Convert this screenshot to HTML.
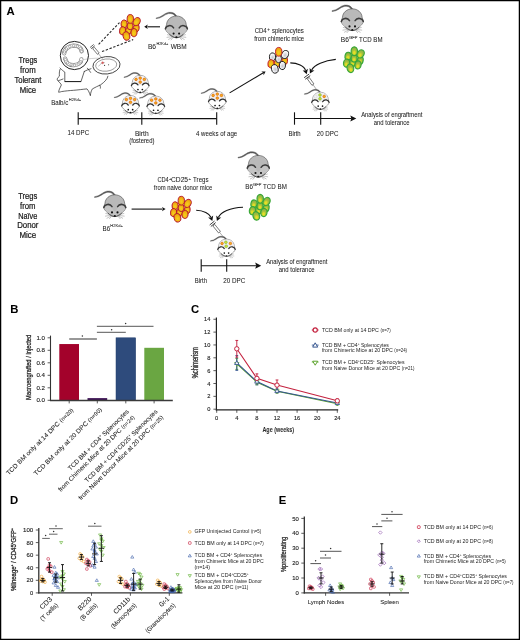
<!DOCTYPE html><html><head><meta charset="utf-8"><style>html,body{margin:0;padding:0;background:#fff;}svg{display:block;will-change:transform;}</style></head><body><svg width="520" height="640" viewBox="0 0 520 640" font-family="'Liberation Sans', sans-serif"><style>text{stroke:#222;stroke-width:0.05px;paint-order:stroke;} .lg{stroke-width:0} .hv{stroke-width:0.15px} .yl{stroke:#2a2a2a;stroke-width:0.3px} .big{stroke:#1a1a1a;stroke-width:0.22px} .tk{stroke:#222;stroke-width:0.12px}</style>
<defs>
 <radialGradient id="go" cx="0.5" cy="0.6" r="0.6">
   <stop offset="0" stop-color="#f6d21c"/><stop offset="0.55" stop-color="#f1b414"/><stop offset="1" stop-color="#e8920e"/>
 </radialGradient>
 <radialGradient id="gg" cx="0.5" cy="0.64" r="0.62" fx="0.5" fy="0.7">
   <stop offset="0" stop-color="#ece61e"/><stop offset="0.25" stop-color="#dcdc28"/><stop offset="0.5" stop-color="#a8c23c"/><stop offset="1" stop-color="#84ae48"/>
 </radialGradient>
 <radialGradient id="gw" cx="0.55" cy="0.58" r="0.6">
   <stop offset="0" stop-color="#c4c4ca"/><stop offset="0.45" stop-color="#e6e6ea"/><stop offset="0.8" stop-color="#fdfdfd"/><stop offset="1" stop-color="#fff"/>
 </radialGradient>
</defs>
<rect x="0" y="0" width="520" height="640" fill="#fff"/><text x="6.5" y="14.8" font-size="11.3" font-weight="bold" fill="#000">A</text>
<text x="27.9" y="62.7" font-size="8.5" text-anchor="middle" fill="#1a1a1a" font-weight="normal" textLength="18.7" lengthAdjust="spacingAndGlyphs"  class="big">Tregs</text>
<text x="27.9" y="72.7" font-size="8.5" text-anchor="middle" fill="#1a1a1a" font-weight="normal" textLength="15.6" lengthAdjust="spacingAndGlyphs"  class="big">from</text>
<text x="27.9" y="82.5" font-size="8.5" text-anchor="middle" fill="#1a1a1a" font-weight="normal" textLength="27.0" lengthAdjust="spacingAndGlyphs"  class="big">Tolerant</text>
<text x="27.9" y="92.6" font-size="8.5" text-anchor="middle" fill="#1a1a1a" font-weight="normal" textLength="16.4" lengthAdjust="spacingAndGlyphs"  class="big">Mice</text>
<g fill="none" stroke="#222" stroke-width="0.7" stroke-linejoin="round" stroke-linecap="round"><path d="M60,69.4 C59,72 59.4,74.5 59.4,76.2 C57,78 56.5,80 58,80.9 C59.5,82 60.6,83.5 61.4,84.9 C60,88 58.5,90.5 58.7,92.3 C60,92 61,91.8 61.4,91.6 C65,91 70,90.5 73.5,90.3 C78,90 83,89.2 87,88.9 C88.5,90.5 89.5,93 90.4,95.7 C90.5,93 91.4,90.5 92.4,88.9 C95,87.4 98,86 100.5,84.9 C102.5,83.4 104.5,82 105.8,80.2 C107,79 107.6,77.6 107.9,76.2"/><path d="M60,68 C62,70 63.6,71.4 64.8,72.1 L64.8,81.5"/><path d="M84.3,71.4 L81,81.5"/><path d="M84.3,71.4 C86.5,70.2 89,69.2 91,68.7 M87.4,68.2 C88.6,69.6 89.6,71 90.6,72.4"/><path d="M99.8,85.2 C100.4,86.4 100.6,87.4 100.4,88.2 M63,79 C61.5,79.6 60,80.2 58.6,80.6"/></g>
<path d="M64.8,81.6 L81,81.6" stroke="#111" stroke-width="1.0"/>
<circle cx="74.4" cy="55.5" r="14.1" fill="#fff" stroke="#161616" stroke-width="0.95"/>
<path d="M64.2,53.4 C64.4,49 68.6,46 73.4,45.6 C77.6,45.4 81.4,47.4 81.6,51.4 M65.2,58.6 C66,63.2 70,65.4 74,65.2 C78,65 81.2,62.6 81.4,59.4" fill="none" stroke="#8a8a8a" stroke-width="4.2" stroke-linecap="round"/>
<path d="M64.2,53.4 C64.4,49 68.6,46 73.4,45.6 C77.6,45.4 81.4,47.4 81.6,51.4 M65.2,58.6 C66,63.2 70,65.4 74,65.2 C78,65 81.2,62.6 81.4,59.4" fill="none" stroke="#fff" stroke-width="2.8" stroke-linecap="round"/>
<g fill="#fff" stroke="#6a6a6a" stroke-width="0.55"><circle cx="64.4" cy="52.0" r="1.25"/><circle cx="66.4" cy="48.9" r="1.25"/><circle cx="69.8" cy="46.6" r="1.25"/><circle cx="73.6" cy="45.7" r="1.25"/><circle cx="77.4" cy="46.2" r="1.25"/><circle cx="80.4" cy="48.4" r="1.25"/><circle cx="81.6" cy="51.4" r="1.25"/><circle cx="65.4" cy="59.6" r="1.25"/><circle cx="67.6" cy="62.8" r="1.25"/><circle cx="71.0" cy="64.8" r="1.25"/><circle cx="74.6" cy="65.2" r="1.25"/><circle cx="78.2" cy="64.2" r="1.25"/><circle cx="80.8" cy="61.8" r="1.25"/></g>
<path d="M83.4,59.6 C89,58.6 94,58.2 99,58.2" fill="none" stroke="#9a9a9a" stroke-width="0.45"/>
<ellipse cx="106.5" cy="65.3" rx="13.6" ry="8.7" transform="rotate(-6 106.5 65.3)" fill="#fff" stroke="#222" stroke-width="0.8"/>
<ellipse cx="106.2" cy="65.1" rx="10.6" ry="6.1" transform="rotate(-6 106.2 65.1)" fill="none" stroke="#444" stroke-width="0.5"/>
<path d="M98.6,66.4 C100,64 102,62.6 104.8,62.6" fill="none" stroke="#666" stroke-width="0.4"/>
<circle cx="102.6" cy="62.8" r="1.0" fill="#e56060" stroke="#b03a3a" stroke-width="0.3"/><circle cx="104.6" cy="65.4" r="0.55" fill="#333"/><circle cx="108.6" cy="64.8" r="0.55" fill="#333"/>
<g transform="translate(92.4 46.6) rotate(-40)"><path d="M-2.4,-0.8 L2.4,-0.8 M-2.4,0.8 L2.4,0.8" stroke="#333" stroke-width="0.7"/><rect x="-1.1" y="1.8" width="2.2" height="7.4" fill="#fff" stroke="#333" stroke-width="0.6"/><path d="M0,9.2 L0,15.6" stroke="#555" stroke-width="0.45"/></g>
<path d="M98.6,44.4 L119.5,22.6 M102,51.6 L133.2,39.6" stroke="#2a2a2a" stroke-width="1.1" stroke-dasharray="2.4 1.6" fill="none"/>
<g><ellipse cx="128.6" cy="30.4" rx="3.0" ry="3.6" transform="rotate(0 128.6 30.4)" fill="url(#go)" stroke="#b3142e" stroke-width="0.9"/><ellipse cx="130.1" cy="26.0" rx="3.0" ry="3.8" transform="rotate(0 130.1 26.0)" fill="url(#go)" stroke="#b3142e" stroke-width="0.9"/><ellipse cx="136.3" cy="28.0" rx="2.9" ry="3.9" transform="rotate(10 136.3 28.0)" fill="url(#go)" stroke="#b3142e" stroke-width="0.9"/><ellipse cx="124.1" cy="23.9" rx="3.1" ry="3.9" transform="rotate(10 124.1 23.9)" fill="url(#go)" stroke="#b3142e" stroke-width="0.9"/><ellipse cx="136.7" cy="21.6" rx="3.3" ry="4.3" transform="rotate(30 136.7 21.6)" fill="url(#go)" stroke="#b3142e" stroke-width="0.9"/><ellipse cx="130.3" cy="18.9" rx="3.2" ry="4.4" transform="rotate(0 130.3 18.9)" fill="url(#go)" stroke="#b3142e" stroke-width="0.9"/><ellipse cx="122.6" cy="30.8" rx="3.1" ry="4.1" transform="rotate(10 122.6 30.8)" fill="url(#go)" stroke="#b3142e" stroke-width="0.9"/><ellipse cx="134.0" cy="32.6" rx="3.1" ry="4.1" transform="rotate(10 134.0 32.6)" fill="url(#go)" stroke="#b3142e" stroke-width="0.9"/><ellipse cx="126.4" cy="36.0" rx="3.3" ry="4.3" transform="rotate(-15 126.4 36.0)" fill="url(#go)" stroke="#b3142e" stroke-width="0.9"/></g>
<line x1="160" y1="26.8" x2="147.30" y2="26.80" stroke="#111" stroke-width="1.1"/>
<path d="M144.20,26.80 L147.80,24.60 L146.90,26.80 L147.80,29.00 Z" fill="#111"/>
<g transform="translate(176.40 26.00) scale(1.0)"><path d="M0.5,-9.6 C-1,-12.6 -4,-14.2 -8,-13.6 C-12,-13 -15,-8.4 -20.2,-8.1 L-20.3,-7.4 C-14.6,-7.4 -11.8,-11.8 -8,-12.4 C-4.6,-12.9 -2.2,-11.8 -0.9,-9.4 Z" fill="#555" stroke="#555" stroke-width="0.5" stroke-linejoin="round"/><path d="M0,-10 C5.6,-10 9.6,-6 9.8,-1.6 L11,2.4 C11,4.2 9.6,5.8 7.6,7.6 C5.4,9.6 2.8,11.8 0,11.8 C-2.8,11.8 -5.4,9.6 -7.6,7.6 C-9.6,5.8 -11,4.2 -11,2.4 L-9.8,-1.6 C-9.6,-6 -5.6,-10 0,-10 Z" fill="#b9b9b9" stroke="#3a3a3a" stroke-width="0.55"/><path d="M-10.6,3 C-9.5,0.6 -5,0.2 -2.9,2.4 C-2,5 -1,6.5 0,6.5 C1,6.5 2,5 2.9,2.4 C5,0.2 9.5,0.6 10.6,3 C10.4,4.6 9.2,6 7.5,7.6 C5.4,9.6 2.8,11.6 0,11.6 C-2.8,11.6 -5.4,9.6 -7.5,7.6 C-9.2,6 -10.4,4.6 -10.6,3 Z" fill="#c4c4c4"/><path d="M-11,2.8 C-10.2,-0.6 -5,-1.9 -2.8,1.9" fill="none" stroke="#3c3c3c" stroke-width="1.5" stroke-linecap="round"/><path d="M11,2.8 C10.2,-0.6 5,-1.9 2.8,1.9" fill="none" stroke="#3c3c3c" stroke-width="1.5" stroke-linecap="round"/><path d="M-7.0,8.2 C-4.6,10.6 -2.2,11.7 0,11.7 C2.2,11.7 4.6,10.6 7.0,8.2" fill="none" stroke="#444" stroke-width="0.9"/><circle cx="-2.8" cy="7.6" r="1.05" fill="#111"/><circle cx="2.7" cy="7.6" r="1.05" fill="#111"/><ellipse cx="0" cy="11.1" rx="1.1" ry="0.85" fill="#111"/><path d="M-3.6,10 L-9.4,8.6 M-3.6,10.5 L-9.8,11.4 M-3.4,11 L-8.2,13.6 M-3,11.2 L-5.6,14.2 M3.6,10 L9.4,8.6 M3.6,10.5 L9.8,11.4 M3.4,11 L8.2,13.6 M3,11.2 L5.6,14.2" stroke="#7a7a7a" stroke-width="0.45"/></g>
<text x="147.9" y="48.6" font-size="6.4" text-anchor="start" fill="#222" font-weight="normal" textLength="8.2" lengthAdjust="spacingAndGlyphs" >B6</text>
<text x="156.4" y="44.9" font-size="4.2" text-anchor="start" fill="#222" font-weight="normal" textLength="12.0" lengthAdjust="spacingAndGlyphs" >H2Kd+</text>
<text x="170.7" y="48.6" font-size="6.4" text-anchor="start" fill="#222" font-weight="normal" textLength="15.9" lengthAdjust="spacingAndGlyphs" >WBM</text>
<text x="51.2" y="104.5" font-size="6.6" text-anchor="start" fill="#222" font-weight="normal" textLength="17.0" lengthAdjust="spacingAndGlyphs" >Balb/c</text>
<text x="68.8" y="101.4" font-size="4.2" text-anchor="start" fill="#222" font-weight="normal" textLength="12.3" lengthAdjust="spacingAndGlyphs" >H2Kd+</text>
<g transform="translate(140.20 83.40) scale(0.8)"><path d="M0.5,-9.6 C-1,-12.6 -4,-14.2 -8,-13.6 C-12,-13 -15,-8.4 -20.2,-8.1 L-20.3,-7.4 C-14.6,-7.4 -11.8,-11.8 -8,-12.4 C-4.6,-12.9 -2.2,-11.8 -0.9,-9.4 Z" fill="#555" stroke="#555" stroke-width="0.5" stroke-linejoin="round"/><path d="M0,-10 C5.6,-10 9.6,-6 9.8,-1.6 L11,2.4 C11,4.2 9.6,5.8 7.6,7.6 C5.4,9.6 2.8,11.8 0,11.8 C-2.8,11.8 -5.4,9.6 -7.6,7.6 C-9.6,5.8 -11,4.2 -11,2.4 L-9.8,-1.6 C-9.6,-6 -5.6,-10 0,-10 Z" fill="#fff" stroke="#444" stroke-width="0.6"/><path d="M-9.5,1.6 C-9.6,-6 -5.6,-9.6 0,-9.6 C5.6,-9.6 9.6,-6 9.5,1.6 C7,0.2 4.5,0.6 2.9,2.2 L-2.9,2.2 C-4.5,0.6 -7,0.2 -9.5,1.6 Z" fill="#efefef"/><path d="M-11,2.8 C-10.2,-0.6 -5,-1.9 -2.8,1.9" fill="none" stroke="#2e2e2e" stroke-width="1.5" stroke-linecap="round"/><path d="M11,2.8 C10.2,-0.6 5,-1.9 2.8,1.9" fill="none" stroke="#2e2e2e" stroke-width="1.5" stroke-linecap="round"/><path d="M-7.0,8.2 C-4.6,10.6 -2.2,11.7 0,11.7 C2.2,11.7 4.6,10.6 7.0,8.2" fill="none" stroke="#444" stroke-width="0.9"/><circle cx="-2.8" cy="7.6" r="1.05" fill="#111"/><circle cx="2.7" cy="7.6" r="1.05" fill="#111"/><ellipse cx="0" cy="11.1" rx="1.1" ry="0.85" fill="#111"/><path d="M-3.6,10 L-9.4,8.6 M-3.6,10.5 L-9.8,11.4 M-3.4,11 L-8.2,13.6 M-3,11.2 L-5.6,14.2 M3.6,10 L9.4,8.6 M3.6,10.5 L9.8,11.4 M3.4,11 L8.2,13.6 M3,11.2 L5.6,14.2" stroke="#7a7a7a" stroke-width="0.45"/><circle cx="-5.2" cy="-5.0" r="1.6" fill="#f3b418" stroke="#e2620c" stroke-width="0.85"/><circle cx="0" cy="-6.6" r="1.6" fill="#f3b418" stroke="#e2620c" stroke-width="0.85"/><circle cx="5.2" cy="-5.0" r="1.6" fill="#f3b418" stroke="#e2620c" stroke-width="0.85"/><circle cx="0" cy="-1.6" r="1.6" fill="#f3b418" stroke="#e2620c" stroke-width="0.85"/></g>
<g transform="translate(130.50 103.60) scale(0.8)"><path d="M0.5,-9.6 C-1,-12.6 -4,-14.2 -8,-13.6 C-12,-13 -15,-8.4 -20.2,-8.1 L-20.3,-7.4 C-14.6,-7.4 -11.8,-11.8 -8,-12.4 C-4.6,-12.9 -2.2,-11.8 -0.9,-9.4 Z" fill="#555" stroke="#555" stroke-width="0.5" stroke-linejoin="round"/><path d="M0,-10 C5.6,-10 9.6,-6 9.8,-1.6 L11,2.4 C11,4.2 9.6,5.8 7.6,7.6 C5.4,9.6 2.8,11.8 0,11.8 C-2.8,11.8 -5.4,9.6 -7.6,7.6 C-9.6,5.8 -11,4.2 -11,2.4 L-9.8,-1.6 C-9.6,-6 -5.6,-10 0,-10 Z" fill="#fff" stroke="#444" stroke-width="0.6"/><path d="M-9.5,1.6 C-9.6,-6 -5.6,-9.6 0,-9.6 C5.6,-9.6 9.6,-6 9.5,1.6 C7,0.2 4.5,0.6 2.9,2.2 L-2.9,2.2 C-4.5,0.6 -7,0.2 -9.5,1.6 Z" fill="#efefef"/><path d="M-11,2.8 C-10.2,-0.6 -5,-1.9 -2.8,1.9" fill="none" stroke="#2e2e2e" stroke-width="1.5" stroke-linecap="round"/><path d="M11,2.8 C10.2,-0.6 5,-1.9 2.8,1.9" fill="none" stroke="#2e2e2e" stroke-width="1.5" stroke-linecap="round"/><path d="M-7.0,8.2 C-4.6,10.6 -2.2,11.7 0,11.7 C2.2,11.7 4.6,10.6 7.0,8.2" fill="none" stroke="#444" stroke-width="0.9"/><circle cx="-2.8" cy="7.6" r="1.05" fill="#111"/><circle cx="2.7" cy="7.6" r="1.05" fill="#111"/><ellipse cx="0" cy="11.1" rx="1.1" ry="0.85" fill="#111"/><path d="M-3.6,10 L-9.4,8.6 M-3.6,10.5 L-9.8,11.4 M-3.4,11 L-8.2,13.6 M-3,11.2 L-5.6,14.2 M3.6,10 L9.4,8.6 M3.6,10.5 L9.8,11.4 M3.4,11 L8.2,13.6 M3,11.2 L5.6,14.2" stroke="#7a7a7a" stroke-width="0.45"/><circle cx="-5.2" cy="-5.0" r="1.6" fill="#f3b418" stroke="#e2620c" stroke-width="0.85"/><circle cx="0" cy="-6.6" r="1.6" fill="#f3b418" stroke="#e2620c" stroke-width="0.85"/><circle cx="5.2" cy="-5.0" r="1.6" fill="#f3b418" stroke="#e2620c" stroke-width="0.85"/><circle cx="0" cy="-1.6" r="1.6" fill="#f3b418" stroke="#e2620c" stroke-width="0.85"/></g>
<g transform="translate(155.80 104.20) scale(0.8)"><path d="M0.5,-9.6 C-1,-12.6 -4,-14.2 -8,-13.6 C-12,-13 -15,-8.4 -20.2,-8.1 L-20.3,-7.4 C-14.6,-7.4 -11.8,-11.8 -8,-12.4 C-4.6,-12.9 -2.2,-11.8 -0.9,-9.4 Z" fill="#555" stroke="#555" stroke-width="0.5" stroke-linejoin="round"/><path d="M0,-10 C5.6,-10 9.6,-6 9.8,-1.6 L11,2.4 C11,4.2 9.6,5.8 7.6,7.6 C5.4,9.6 2.8,11.8 0,11.8 C-2.8,11.8 -5.4,9.6 -7.6,7.6 C-9.6,5.8 -11,4.2 -11,2.4 L-9.8,-1.6 C-9.6,-6 -5.6,-10 0,-10 Z" fill="#fff" stroke="#444" stroke-width="0.6"/><path d="M-9.5,1.6 C-9.6,-6 -5.6,-9.6 0,-9.6 C5.6,-9.6 9.6,-6 9.5,1.6 C7,0.2 4.5,0.6 2.9,2.2 L-2.9,2.2 C-4.5,0.6 -7,0.2 -9.5,1.6 Z" fill="#efefef"/><path d="M-11,2.8 C-10.2,-0.6 -5,-1.9 -2.8,1.9" fill="none" stroke="#2e2e2e" stroke-width="1.5" stroke-linecap="round"/><path d="M11,2.8 C10.2,-0.6 5,-1.9 2.8,1.9" fill="none" stroke="#2e2e2e" stroke-width="1.5" stroke-linecap="round"/><path d="M-7.0,8.2 C-4.6,10.6 -2.2,11.7 0,11.7 C2.2,11.7 4.6,10.6 7.0,8.2" fill="none" stroke="#444" stroke-width="0.9"/><circle cx="-2.8" cy="7.6" r="1.05" fill="#111"/><circle cx="2.7" cy="7.6" r="1.05" fill="#111"/><ellipse cx="0" cy="11.1" rx="1.1" ry="0.85" fill="#111"/><path d="M-3.6,10 L-9.4,8.6 M-3.6,10.5 L-9.8,11.4 M-3.4,11 L-8.2,13.6 M-3,11.2 L-5.6,14.2 M3.6,10 L9.4,8.6 M3.6,10.5 L9.8,11.4 M3.4,11 L8.2,13.6 M3,11.2 L5.6,14.2" stroke="#7a7a7a" stroke-width="0.45"/><circle cx="-5.2" cy="-5.0" r="1.6" fill="#f3b418" stroke="#e2620c" stroke-width="0.85"/><circle cx="0" cy="-6.6" r="1.6" fill="#f3b418" stroke="#e2620c" stroke-width="0.85"/><circle cx="5.2" cy="-5.0" r="1.6" fill="#f3b418" stroke="#e2620c" stroke-width="0.85"/><circle cx="0" cy="-1.6" r="1.6" fill="#f3b418" stroke="#e2620c" stroke-width="0.85"/></g>
<g transform="translate(217.30 99.40) scale(0.8)"><path d="M0.5,-9.6 C-1,-12.6 -4,-14.2 -8,-13.6 C-12,-13 -15,-8.4 -20.2,-8.1 L-20.3,-7.4 C-14.6,-7.4 -11.8,-11.8 -8,-12.4 C-4.6,-12.9 -2.2,-11.8 -0.9,-9.4 Z" fill="#555" stroke="#555" stroke-width="0.5" stroke-linejoin="round"/><path d="M0,-10 C5.6,-10 9.6,-6 9.8,-1.6 L11,2.4 C11,4.2 9.6,5.8 7.6,7.6 C5.4,9.6 2.8,11.8 0,11.8 C-2.8,11.8 -5.4,9.6 -7.6,7.6 C-9.6,5.8 -11,4.2 -11,2.4 L-9.8,-1.6 C-9.6,-6 -5.6,-10 0,-10 Z" fill="#fff" stroke="#444" stroke-width="0.6"/><path d="M-9.5,1.6 C-9.6,-6 -5.6,-9.6 0,-9.6 C5.6,-9.6 9.6,-6 9.5,1.6 C7,0.2 4.5,0.6 2.9,2.2 L-2.9,2.2 C-4.5,0.6 -7,0.2 -9.5,1.6 Z" fill="#efefef"/><path d="M-11,2.8 C-10.2,-0.6 -5,-1.9 -2.8,1.9" fill="none" stroke="#2e2e2e" stroke-width="1.5" stroke-linecap="round"/><path d="M11,2.8 C10.2,-0.6 5,-1.9 2.8,1.9" fill="none" stroke="#2e2e2e" stroke-width="1.5" stroke-linecap="round"/><path d="M-7.0,8.2 C-4.6,10.6 -2.2,11.7 0,11.7 C2.2,11.7 4.6,10.6 7.0,8.2" fill="none" stroke="#444" stroke-width="0.9"/><circle cx="-2.8" cy="7.6" r="1.05" fill="#111"/><circle cx="2.7" cy="7.6" r="1.05" fill="#111"/><ellipse cx="0" cy="11.1" rx="1.1" ry="0.85" fill="#111"/><path d="M-3.6,10 L-9.4,8.6 M-3.6,10.5 L-9.8,11.4 M-3.4,11 L-8.2,13.6 M-3,11.2 L-5.6,14.2 M3.6,10 L9.4,8.6 M3.6,10.5 L9.8,11.4 M3.4,11 L8.2,13.6 M3,11.2 L5.6,14.2" stroke="#7a7a7a" stroke-width="0.45"/><circle cx="-5.2" cy="-5.0" r="1.6" fill="#f3b418" stroke="#e2620c" stroke-width="0.85"/><circle cx="0" cy="-6.6" r="1.6" fill="#f3b418" stroke="#e2620c" stroke-width="0.85"/><circle cx="5.2" cy="-5.0" r="1.6" fill="#f3b418" stroke="#e2620c" stroke-width="0.85"/><circle cx="0" cy="-1.6" r="1.6" fill="#f3b418" stroke="#e2620c" stroke-width="0.85"/></g>
<g stroke="#111" stroke-width="1.1"><line x1="78.2" y1="118.6" x2="216.7" y2="118.6"/><line x1="78.2" y1="112.3" x2="78.2" y2="124.7"/><line x1="141.8" y1="112.3" x2="141.8" y2="124.7"/><line x1="216.7" y1="112.3" x2="216.7" y2="124.7"/></g>
<text x="67.5" y="135.0" font-size="6.6" text-anchor="start" fill="#222" font-weight="normal" textLength="21.7" lengthAdjust="spacingAndGlyphs" >14 DPC</text>
<text x="141.8" y="135.6" font-size="6.6" text-anchor="middle" fill="#222" font-weight="normal" textLength="13.8" lengthAdjust="spacingAndGlyphs" >Birth</text>
<text x="141.8" y="143.2" font-size="6.4" text-anchor="middle" fill="#222" font-weight="normal" textLength="25.2" lengthAdjust="spacingAndGlyphs" >(fostered)</text>
<text x="196.0" y="135.6" font-size="6.4" text-anchor="start" fill="#222" font-weight="normal" textLength="41.2" lengthAdjust="spacingAndGlyphs" >4 weeks of age</text>
<line x1="229.6" y1="92.9" x2="262.94" y2="73.08" stroke="#111" stroke-width="1.1"/>
<path d="M265.60,71.50 L263.63,75.23 L263.28,72.88 L261.38,71.45 Z" fill="#111"/>
<text x="254.7" y="33.0" font-size="6.4" text-anchor="start" fill="#222" font-weight="normal" textLength="12.0" lengthAdjust="spacingAndGlyphs" >CD4</text>
<text x="267.3" y="30.6" font-size="4.6" text-anchor="start" fill="#222" font-weight="normal" >+</text>
<text x="271.9" y="33.0" font-size="6.4" text-anchor="start" fill="#222" font-weight="normal" textLength="31.9" lengthAdjust="spacingAndGlyphs" >splenocytes</text>
<text x="254.2" y="40.6" font-size="6.4" text-anchor="start" fill="#222" font-weight="normal" textLength="50.0" lengthAdjust="spacingAndGlyphs" >from chimeric mice</text>
<g><ellipse cx="277.0" cy="63.3" rx="3.0" ry="3.6" transform="rotate(0 277.0 63.3)" fill="url(#go)" stroke="#c0182c" stroke-width="0.9"/><ellipse cx="278.5" cy="58.9" rx="3.0" ry="3.8" transform="rotate(0 278.5 58.9)" fill="url(#gw)" stroke="#1a1a1a" stroke-width="0.9"/><ellipse cx="284.7" cy="60.9" rx="2.9" ry="3.9" transform="rotate(10 284.7 60.9)" fill="url(#go)" stroke="#c0182c" stroke-width="0.9"/><ellipse cx="272.5" cy="56.8" rx="3.1" ry="3.9" transform="rotate(10 272.5 56.8)" fill="url(#gw)" stroke="#1a1a1a" stroke-width="0.9"/><ellipse cx="285.1" cy="54.5" rx="3.3" ry="4.3" transform="rotate(30 285.1 54.5)" fill="url(#gw)" stroke="#1a1a1a" stroke-width="0.9"/><ellipse cx="278.7" cy="51.8" rx="3.2" ry="4.4" transform="rotate(0 278.7 51.8)" fill="url(#go)" stroke="#c0182c" stroke-width="0.9"/><ellipse cx="271.0" cy="63.7" rx="3.1" ry="4.1" transform="rotate(10 271.0 63.7)" fill="url(#go)" stroke="#c0182c" stroke-width="0.9"/><ellipse cx="282.4" cy="65.5" rx="3.1" ry="4.1" transform="rotate(10 282.4 65.5)" fill="url(#gw)" stroke="#1a1a1a" stroke-width="0.9"/><ellipse cx="274.8" cy="68.9" rx="3.3" ry="4.3" transform="rotate(-15 274.8 68.9)" fill="url(#gw)" stroke="#1a1a1a" stroke-width="0.9"/></g>
<g transform="translate(352.30 18.80) scale(1.0)"><path d="M0.5,-9.6 C-1,-12.6 -4,-14.2 -8,-13.6 C-12,-13 -15,-8.4 -20.2,-8.1 L-20.3,-7.4 C-14.6,-7.4 -11.8,-11.8 -8,-12.4 C-4.6,-12.9 -2.2,-11.8 -0.9,-9.4 Z" fill="#555" stroke="#555" stroke-width="0.5" stroke-linejoin="round"/><path d="M0,-10 C5.6,-10 9.6,-6 9.8,-1.6 L11,2.4 C11,4.2 9.6,5.8 7.6,7.6 C5.4,9.6 2.8,11.8 0,11.8 C-2.8,11.8 -5.4,9.6 -7.6,7.6 C-9.6,5.8 -11,4.2 -11,2.4 L-9.8,-1.6 C-9.6,-6 -5.6,-10 0,-10 Z" fill="#b9b9b9" stroke="#3a3a3a" stroke-width="0.55"/><path d="M-10.6,3 C-9.5,0.6 -5,0.2 -2.9,2.4 C-2,5 -1,6.5 0,6.5 C1,6.5 2,5 2.9,2.4 C5,0.2 9.5,0.6 10.6,3 C10.4,4.6 9.2,6 7.5,7.6 C5.4,9.6 2.8,11.6 0,11.6 C-2.8,11.6 -5.4,9.6 -7.5,7.6 C-9.2,6 -10.4,4.6 -10.6,3 Z" fill="#c4c4c4"/><path d="M-11,2.8 C-10.2,-0.6 -5,-1.9 -2.8,1.9" fill="none" stroke="#3c3c3c" stroke-width="1.5" stroke-linecap="round"/><path d="M11,2.8 C10.2,-0.6 5,-1.9 2.8,1.9" fill="none" stroke="#3c3c3c" stroke-width="1.5" stroke-linecap="round"/><path d="M-7.0,8.2 C-4.6,10.6 -2.2,11.7 0,11.7 C2.2,11.7 4.6,10.6 7.0,8.2" fill="none" stroke="#444" stroke-width="0.9"/><circle cx="-2.8" cy="7.6" r="1.05" fill="#111"/><circle cx="2.7" cy="7.6" r="1.05" fill="#111"/><ellipse cx="0" cy="11.1" rx="1.1" ry="0.85" fill="#111"/><path d="M-3.6,10 L-9.4,8.6 M-3.6,10.5 L-9.8,11.4 M-3.4,11 L-8.2,13.6 M-3,11.2 L-5.6,14.2 M3.6,10 L9.4,8.6 M3.6,10.5 L9.8,11.4 M3.4,11 L8.2,13.6 M3,11.2 L5.6,14.2" stroke="#7a7a7a" stroke-width="0.45"/></g>
<text x="340.8" y="41.9" font-size="6.3" text-anchor="start" fill="#222" font-weight="normal" textLength="8.1" lengthAdjust="spacingAndGlyphs" >B6</text>
<text x="349.1" y="38.6" font-size="4.2" text-anchor="start" fill="#222" font-weight="normal" textLength="8.4" lengthAdjust="spacingAndGlyphs" >GFP</text>
<text x="359.1" y="41.9" font-size="6.4" text-anchor="start" fill="#222" font-weight="normal" textLength="23.4" lengthAdjust="spacingAndGlyphs" >TCD BM</text>
<g><ellipse cx="352.6" cy="62.7" rx="3.0" ry="3.6" transform="rotate(0 352.6 62.7)" fill="url(#gg)" stroke="#38a838" stroke-width="1.15"/><ellipse cx="354.1" cy="58.3" rx="3.0" ry="3.8" transform="rotate(0 354.1 58.3)" fill="url(#gg)" stroke="#38a838" stroke-width="1.15"/><ellipse cx="360.3" cy="60.3" rx="2.9" ry="3.9" transform="rotate(10 360.3 60.3)" fill="url(#gg)" stroke="#38a838" stroke-width="1.15"/><ellipse cx="348.1" cy="56.2" rx="3.1" ry="3.9" transform="rotate(10 348.1 56.2)" fill="url(#gg)" stroke="#38a838" stroke-width="1.15"/><ellipse cx="360.7" cy="53.9" rx="3.3" ry="4.3" transform="rotate(30 360.7 53.9)" fill="url(#gg)" stroke="#38a838" stroke-width="1.15"/><ellipse cx="354.3" cy="51.2" rx="3.2" ry="4.4" transform="rotate(0 354.3 51.2)" fill="url(#gg)" stroke="#38a838" stroke-width="1.15"/><ellipse cx="346.6" cy="63.1" rx="3.1" ry="4.1" transform="rotate(10 346.6 63.1)" fill="url(#gg)" stroke="#38a838" stroke-width="1.15"/><ellipse cx="358.0" cy="64.9" rx="3.1" ry="4.1" transform="rotate(10 358.0 64.9)" fill="url(#gg)" stroke="#38a838" stroke-width="1.15"/><ellipse cx="350.4" cy="68.3" rx="3.3" ry="4.3" transform="rotate(-15 350.4 68.3)" fill="url(#gg)" stroke="#38a838" stroke-width="1.15"/></g>
<path d="M290.3,62.9 C297.5,63.0 304.2,66.0 305.53,70.37" fill="none" stroke="#111" stroke-width="1.15"/>
<path d="M306.70,74.20 L302.72,70.40 L305.59,70.57 L307.88,68.82 Z" fill="#111"/>
<path d="M335.8,59.4 C324.0,60.5 314.2,65.0 311.69,70.02" fill="none" stroke="#111" stroke-width="1.15"/>
<path d="M309.90,73.60 L309.63,68.10 L311.60,70.20 L314.46,70.51 Z" fill="#111"/>
<g transform="translate(307.2 76.7) rotate(-36)"><path d="M-3.1,-1.0 L3.1,-1.0 M-3.1,0.9 L3.1,0.9" stroke="#222" stroke-width="0.8"/><rect x="-1.2" y="1.8" width="2.4" height="8" fill="#fff" stroke="#333" stroke-width="0.6"/><path d="M0,9.8 L0,16" stroke="#555" stroke-width="0.45"/></g>
<g transform="translate(320.40 100.20) scale(0.79)"><path d="M0.5,-9.6 C-1,-12.6 -4,-14.2 -8,-13.6 C-12,-13 -15,-8.4 -20.2,-8.1 L-20.3,-7.4 C-14.6,-7.4 -11.8,-11.8 -8,-12.4 C-4.6,-12.9 -2.2,-11.8 -0.9,-9.4 Z" fill="#555" stroke="#555" stroke-width="0.5" stroke-linejoin="round"/><path d="M0,-10 C5.6,-10 9.6,-6 9.8,-1.6 L11,2.4 C11,4.2 9.6,5.8 7.6,7.6 C5.4,9.6 2.8,11.8 0,11.8 C-2.8,11.8 -5.4,9.6 -7.6,7.6 C-9.6,5.8 -11,4.2 -11,2.4 L-9.8,-1.6 C-9.6,-6 -5.6,-10 0,-10 Z" fill="#fff" stroke="#444" stroke-width="0.6"/><path d="M-9.5,1.6 C-9.6,-6 -5.6,-9.6 0,-9.6 C5.6,-9.6 9.6,-6 9.5,1.6 C7,0.2 4.5,0.6 2.9,2.2 L-2.9,2.2 C-4.5,0.6 -7,0.2 -9.5,1.6 Z" fill="#efefef"/><path d="M-11,2.8 C-10.2,-0.6 -5,-1.9 -2.8,1.9" fill="none" stroke="#2e2e2e" stroke-width="1.5" stroke-linecap="round"/><path d="M11,2.8 C10.2,-0.6 5,-1.9 2.8,1.9" fill="none" stroke="#2e2e2e" stroke-width="1.5" stroke-linecap="round"/><path d="M-7.0,8.2 C-4.6,10.6 -2.2,11.7 0,11.7 C2.2,11.7 4.6,10.6 7.0,8.2" fill="none" stroke="#444" stroke-width="0.9"/><circle cx="-2.8" cy="7.6" r="1.05" fill="#111"/><circle cx="2.7" cy="7.6" r="1.05" fill="#111"/><ellipse cx="0" cy="11.1" rx="1.1" ry="0.85" fill="#111"/><path d="M-3.6,10 L-9.4,8.6 M-3.6,10.5 L-9.8,11.4 M-3.4,11 L-8.2,13.6 M-3,11.2 L-5.6,14.2 M3.6,10 L9.4,8.6 M3.6,10.5 L9.8,11.4 M3.4,11 L8.2,13.6 M3,11.2 L5.6,14.2" stroke="#7a7a7a" stroke-width="0.45"/><circle cx="-6.3" cy="-4.7" r="1.75" fill="#f4f4f4" stroke="#d0d0d0" stroke-width="0.6"/><circle cx="-0.5" cy="-6.6" r="1.7" fill="#d8e030" stroke="#78b838" stroke-width="0.8"/><circle cx="-0.5" cy="-1.8" r="1.7" fill="#d8e030" stroke="#78b838" stroke-width="0.8"/><circle cx="4.8" cy="-4.8" r="1.6" fill="#f3b418" stroke="#e2620c" stroke-width="0.85"/></g>
<g stroke="#111" stroke-width="1.1"><line x1="294.5" y1="118.5" x2="351.5" y2="118.5"/><line x1="294.5" y1="112.3" x2="294.5" y2="124.7"/><line x1="320.7" y1="112.3" x2="320.7" y2="124.7"/></g>
<path d="M356.3,118.5 L350.3,115.4 L351.3,118.5 L350.3,121.6 Z" fill="#111"/>
<text x="288.4" y="135.8" font-size="6.4" text-anchor="start" fill="#222" font-weight="normal" textLength="12.3" lengthAdjust="spacingAndGlyphs" >Birth</text>
<text x="316.8" y="135.8" font-size="6.4" text-anchor="start" fill="#222" font-weight="normal" textLength="21.6" lengthAdjust="spacingAndGlyphs" >20 DPC</text>
<text x="361.2" y="116.8" font-size="6.3" text-anchor="start" fill="#222" font-weight="normal" textLength="61.2" lengthAdjust="spacingAndGlyphs" >Analysis of engraftment</text>
<text x="373.8" y="124.6" font-size="6.3" text-anchor="start" fill="#222" font-weight="normal" textLength="35.8" lengthAdjust="spacingAndGlyphs" >and tolerance</text>
<text x="27.8" y="198.8" font-size="8.5" text-anchor="middle" fill="#1a1a1a" font-weight="normal" textLength="19.2" lengthAdjust="spacingAndGlyphs"  class="big">Tregs</text>
<text x="27.8" y="208.7" font-size="8.5" text-anchor="middle" fill="#1a1a1a" font-weight="normal" textLength="15.5" lengthAdjust="spacingAndGlyphs"  class="big">from</text>
<text x="27.8" y="218.6" font-size="8.5" text-anchor="middle" fill="#1a1a1a" font-weight="normal" textLength="19.2" lengthAdjust="spacingAndGlyphs"  class="big">Na&#239;ve</text>
<text x="27.8" y="228.3" font-size="8.5" text-anchor="middle" fill="#1a1a1a" font-weight="normal" textLength="21.3" lengthAdjust="spacingAndGlyphs"  class="big">Donor</text>
<text x="27.8" y="238.0" font-size="8.5" text-anchor="middle" fill="#1a1a1a" font-weight="normal" textLength="16.8" lengthAdjust="spacingAndGlyphs"  class="big">Mice</text>
<g transform="translate(114.80 204.80) scale(1.0)"><path d="M0.5,-9.6 C-1,-12.6 -4,-14.2 -8,-13.6 C-12,-13 -15,-8.4 -20.2,-8.1 L-20.3,-7.4 C-14.6,-7.4 -11.8,-11.8 -8,-12.4 C-4.6,-12.9 -2.2,-11.8 -0.9,-9.4 Z" fill="#555" stroke="#555" stroke-width="0.5" stroke-linejoin="round"/><path d="M0,-10 C5.6,-10 9.6,-6 9.8,-1.6 L11,2.4 C11,4.2 9.6,5.8 7.6,7.6 C5.4,9.6 2.8,11.8 0,11.8 C-2.8,11.8 -5.4,9.6 -7.6,7.6 C-9.6,5.8 -11,4.2 -11,2.4 L-9.8,-1.6 C-9.6,-6 -5.6,-10 0,-10 Z" fill="#b9b9b9" stroke="#3a3a3a" stroke-width="0.55"/><path d="M-10.6,3 C-9.5,0.6 -5,0.2 -2.9,2.4 C-2,5 -1,6.5 0,6.5 C1,6.5 2,5 2.9,2.4 C5,0.2 9.5,0.6 10.6,3 C10.4,4.6 9.2,6 7.5,7.6 C5.4,9.6 2.8,11.6 0,11.6 C-2.8,11.6 -5.4,9.6 -7.5,7.6 C-9.2,6 -10.4,4.6 -10.6,3 Z" fill="#c4c4c4"/><path d="M-11,2.8 C-10.2,-0.6 -5,-1.9 -2.8,1.9" fill="none" stroke="#3c3c3c" stroke-width="1.5" stroke-linecap="round"/><path d="M11,2.8 C10.2,-0.6 5,-1.9 2.8,1.9" fill="none" stroke="#3c3c3c" stroke-width="1.5" stroke-linecap="round"/><path d="M-7.0,8.2 C-4.6,10.6 -2.2,11.7 0,11.7 C2.2,11.7 4.6,10.6 7.0,8.2" fill="none" stroke="#444" stroke-width="0.9"/><circle cx="-2.8" cy="7.6" r="1.05" fill="#111"/><circle cx="2.7" cy="7.6" r="1.05" fill="#111"/><ellipse cx="0" cy="11.1" rx="1.1" ry="0.85" fill="#111"/><path d="M-3.6,10 L-9.4,8.6 M-3.6,10.5 L-9.8,11.4 M-3.4,11 L-8.2,13.6 M-3,11.2 L-5.6,14.2 M3.6,10 L9.4,8.6 M3.6,10.5 L9.8,11.4 M3.4,11 L8.2,13.6 M3,11.2 L5.6,14.2" stroke="#7a7a7a" stroke-width="0.45"/></g>
<text x="102.6" y="230.7" font-size="6.5" text-anchor="start" fill="#222" font-weight="normal" textLength="7.6" lengthAdjust="spacingAndGlyphs" >B6</text>
<text x="110.3" y="227.4" font-size="4.2" text-anchor="start" fill="#222" font-weight="normal" textLength="12.5" lengthAdjust="spacingAndGlyphs" >H2Kd+</text>
<line x1="131.6" y1="209.1" x2="162.50" y2="209.10" stroke="#111" stroke-width="1.1"/>
<path d="M165.60,209.10 L162.00,211.30 L162.90,209.10 L162.00,206.90 Z" fill="#111"/>
<text x="157.4" y="182.2" font-size="6.3" text-anchor="start" fill="#222" font-weight="normal" textLength="11.4" lengthAdjust="spacingAndGlyphs" >CD4</text>
<text x="169.0" y="179.8" font-size="4.4" text-anchor="start" fill="#222" font-weight="normal" >+</text>
<text x="171.0" y="182.2" font-size="6.3" text-anchor="start" fill="#222" font-weight="normal" textLength="17.1" lengthAdjust="spacingAndGlyphs" >CD25</text>
<text x="188.5" y="179.8" font-size="4.4" text-anchor="start" fill="#222" font-weight="normal" >+</text>
<text x="193.1" y="182.2" font-size="6.3" text-anchor="start" fill="#222" font-weight="normal" textLength="15.5" lengthAdjust="spacingAndGlyphs" >Tregs</text>
<text x="153.8" y="189.9" font-size="6.3" text-anchor="start" fill="#222" font-weight="normal" textLength="58.4" lengthAdjust="spacingAndGlyphs" >from naive donor mice</text>
<g><ellipse cx="179.6" cy="212.2" rx="3.0" ry="3.6" transform="rotate(0 179.6 212.2)" fill="url(#go)" stroke="#b3142e" stroke-width="0.9"/><ellipse cx="181.1" cy="207.8" rx="3.0" ry="3.8" transform="rotate(0 181.1 207.8)" fill="url(#go)" stroke="#b3142e" stroke-width="0.9"/><ellipse cx="187.3" cy="209.8" rx="2.9" ry="3.9" transform="rotate(10 187.3 209.8)" fill="url(#go)" stroke="#b3142e" stroke-width="0.9"/><ellipse cx="175.1" cy="205.7" rx="3.1" ry="3.9" transform="rotate(10 175.1 205.7)" fill="url(#go)" stroke="#b3142e" stroke-width="0.9"/><ellipse cx="187.7" cy="203.4" rx="3.3" ry="4.3" transform="rotate(30 187.7 203.4)" fill="url(#go)" stroke="#b3142e" stroke-width="0.9"/><ellipse cx="181.3" cy="200.7" rx="3.2" ry="4.4" transform="rotate(0 181.3 200.7)" fill="url(#go)" stroke="#b3142e" stroke-width="0.9"/><ellipse cx="173.6" cy="212.6" rx="3.1" ry="4.1" transform="rotate(10 173.6 212.6)" fill="url(#go)" stroke="#b3142e" stroke-width="0.9"/><ellipse cx="185.0" cy="214.4" rx="3.1" ry="4.1" transform="rotate(10 185.0 214.4)" fill="url(#go)" stroke="#b3142e" stroke-width="0.9"/><ellipse cx="177.4" cy="217.8" rx="3.3" ry="4.3" transform="rotate(-15 177.4 217.8)" fill="url(#go)" stroke="#b3142e" stroke-width="0.9"/></g>
<g transform="translate(258.30 165.40) scale(1.0)"><path d="M0.5,-9.6 C-1,-12.6 -4,-14.2 -8,-13.6 C-12,-13 -15,-8.4 -20.2,-8.1 L-20.3,-7.4 C-14.6,-7.4 -11.8,-11.8 -8,-12.4 C-4.6,-12.9 -2.2,-11.8 -0.9,-9.4 Z" fill="#555" stroke="#555" stroke-width="0.5" stroke-linejoin="round"/><path d="M0,-10 C5.6,-10 9.6,-6 9.8,-1.6 L11,2.4 C11,4.2 9.6,5.8 7.6,7.6 C5.4,9.6 2.8,11.8 0,11.8 C-2.8,11.8 -5.4,9.6 -7.6,7.6 C-9.6,5.8 -11,4.2 -11,2.4 L-9.8,-1.6 C-9.6,-6 -5.6,-10 0,-10 Z" fill="#b9b9b9" stroke="#3a3a3a" stroke-width="0.55"/><path d="M-10.6,3 C-9.5,0.6 -5,0.2 -2.9,2.4 C-2,5 -1,6.5 0,6.5 C1,6.5 2,5 2.9,2.4 C5,0.2 9.5,0.6 10.6,3 C10.4,4.6 9.2,6 7.5,7.6 C5.4,9.6 2.8,11.6 0,11.6 C-2.8,11.6 -5.4,9.6 -7.5,7.6 C-9.2,6 -10.4,4.6 -10.6,3 Z" fill="#c4c4c4"/><path d="M-11,2.8 C-10.2,-0.6 -5,-1.9 -2.8,1.9" fill="none" stroke="#3c3c3c" stroke-width="1.5" stroke-linecap="round"/><path d="M11,2.8 C10.2,-0.6 5,-1.9 2.8,1.9" fill="none" stroke="#3c3c3c" stroke-width="1.5" stroke-linecap="round"/><path d="M-7.0,8.2 C-4.6,10.6 -2.2,11.7 0,11.7 C2.2,11.7 4.6,10.6 7.0,8.2" fill="none" stroke="#444" stroke-width="0.9"/><circle cx="-2.8" cy="7.6" r="1.05" fill="#111"/><circle cx="2.7" cy="7.6" r="1.05" fill="#111"/><ellipse cx="0" cy="11.1" rx="1.1" ry="0.85" fill="#111"/><path d="M-3.6,10 L-9.4,8.6 M-3.6,10.5 L-9.8,11.4 M-3.4,11 L-8.2,13.6 M-3,11.2 L-5.6,14.2 M3.6,10 L9.4,8.6 M3.6,10.5 L9.8,11.4 M3.4,11 L8.2,13.6 M3,11.2 L5.6,14.2" stroke="#7a7a7a" stroke-width="0.45"/></g>
<text x="245.2" y="188.8" font-size="6.4" text-anchor="start" fill="#222" font-weight="normal" textLength="7.7" lengthAdjust="spacingAndGlyphs" >B6</text>
<text x="253.1" y="185.5" font-size="4.2" text-anchor="start" fill="#222" font-weight="normal" textLength="8.4" lengthAdjust="spacingAndGlyphs" >GFP</text>
<text x="263.1" y="188.8" font-size="6.4" text-anchor="start" fill="#222" font-weight="normal" textLength="23.7" lengthAdjust="spacingAndGlyphs" >TCD BM</text>
<g><ellipse cx="258.5" cy="210.3" rx="3.0" ry="3.6" transform="rotate(0 258.5 210.3)" fill="url(#gg)" stroke="#38a838" stroke-width="1.15"/><ellipse cx="260.0" cy="205.9" rx="3.0" ry="3.8" transform="rotate(0 260.0 205.9)" fill="url(#gg)" stroke="#38a838" stroke-width="1.15"/><ellipse cx="266.2" cy="207.9" rx="2.9" ry="3.9" transform="rotate(10 266.2 207.9)" fill="url(#gg)" stroke="#38a838" stroke-width="1.15"/><ellipse cx="254.0" cy="203.8" rx="3.1" ry="3.9" transform="rotate(10 254.0 203.8)" fill="url(#gg)" stroke="#38a838" stroke-width="1.15"/><ellipse cx="266.6" cy="201.5" rx="3.3" ry="4.3" transform="rotate(30 266.6 201.5)" fill="url(#gg)" stroke="#38a838" stroke-width="1.15"/><ellipse cx="260.2" cy="198.8" rx="3.2" ry="4.4" transform="rotate(0 260.2 198.8)" fill="url(#gg)" stroke="#38a838" stroke-width="1.15"/><ellipse cx="252.5" cy="210.7" rx="3.1" ry="4.1" transform="rotate(10 252.5 210.7)" fill="url(#gg)" stroke="#38a838" stroke-width="1.15"/><ellipse cx="263.9" cy="212.5" rx="3.1" ry="4.1" transform="rotate(10 263.9 212.5)" fill="url(#gg)" stroke="#38a838" stroke-width="1.15"/><ellipse cx="256.3" cy="215.9" rx="3.3" ry="4.3" transform="rotate(-15 256.3 215.9)" fill="url(#gg)" stroke="#38a838" stroke-width="1.15"/></g>
<path d="M196.2,210.2 C203.5,210.4 209.6,213.6 210.93,217.24" fill="none" stroke="#111" stroke-width="1.15"/>
<path d="M212.30,221.00 L208.12,217.42 L211.00,217.43 L213.19,215.57 Z" fill="#111"/>
<path d="M243.0,207.2 C230.0,207.6 220.6,212.0 218.42,217.30" fill="none" stroke="#111" stroke-width="1.15"/>
<path d="M216.90,221.00 L216.23,215.53 L218.34,217.49 L221.22,217.59 Z" fill="#111"/>
<g transform="translate(212.7 223.8) rotate(-39)"><path d="M-3.1,-1.0 L3.1,-1.0 M-3.1,0.9 L3.1,0.9" stroke="#222" stroke-width="0.8"/><rect x="-1.2" y="1.8" width="2.4" height="9" fill="#fff" stroke="#333" stroke-width="0.6"/><path d="M0,10.8 L0,17" stroke="#555" stroke-width="0.45"/></g>
<g transform="translate(226.50 247.10) scale(0.79)"><path d="M0.5,-9.6 C-1,-12.6 -4,-14.2 -8,-13.6 C-12,-13 -15,-8.4 -20.2,-8.1 L-20.3,-7.4 C-14.6,-7.4 -11.8,-11.8 -8,-12.4 C-4.6,-12.9 -2.2,-11.8 -0.9,-9.4 Z" fill="#555" stroke="#555" stroke-width="0.5" stroke-linejoin="round"/><path d="M0,-10 C5.6,-10 9.6,-6 9.8,-1.6 L11,2.4 C11,4.2 9.6,5.8 7.6,7.6 C5.4,9.6 2.8,11.8 0,11.8 C-2.8,11.8 -5.4,9.6 -7.6,7.6 C-9.6,5.8 -11,4.2 -11,2.4 L-9.8,-1.6 C-9.6,-6 -5.6,-10 0,-10 Z" fill="#fff" stroke="#444" stroke-width="0.6"/><path d="M-9.5,1.6 C-9.6,-6 -5.6,-9.6 0,-9.6 C5.6,-9.6 9.6,-6 9.5,1.6 C7,0.2 4.5,0.6 2.9,2.2 L-2.9,2.2 C-4.5,0.6 -7,0.2 -9.5,1.6 Z" fill="#efefef"/><path d="M-11,2.8 C-10.2,-0.6 -5,-1.9 -2.8,1.9" fill="none" stroke="#2e2e2e" stroke-width="1.5" stroke-linecap="round"/><path d="M11,2.8 C10.2,-0.6 5,-1.9 2.8,1.9" fill="none" stroke="#2e2e2e" stroke-width="1.5" stroke-linecap="round"/><path d="M-7.0,8.2 C-4.6,10.6 -2.2,11.7 0,11.7 C2.2,11.7 4.6,10.6 7.0,8.2" fill="none" stroke="#444" stroke-width="0.9"/><circle cx="-2.8" cy="7.6" r="1.05" fill="#111"/><circle cx="2.7" cy="7.6" r="1.05" fill="#111"/><ellipse cx="0" cy="11.1" rx="1.1" ry="0.85" fill="#111"/><path d="M-3.6,10 L-9.4,8.6 M-3.6,10.5 L-9.8,11.4 M-3.4,11 L-8.2,13.6 M-3,11.2 L-5.6,14.2 M3.6,10 L9.4,8.6 M3.6,10.5 L9.8,11.4 M3.4,11 L8.2,13.6 M3,11.2 L5.6,14.2" stroke="#7a7a7a" stroke-width="0.45"/><circle cx="-5.6" cy="-4.6" r="1.6" fill="#f3b418" stroke="#e2620c" stroke-width="0.85"/><circle cx="-0.8" cy="-6.1" r="1.7" fill="#d8e030" stroke="#78b838" stroke-width="0.8"/><circle cx="4.9" cy="-4.6" r="1.6" fill="#f3b418" stroke="#e2620c" stroke-width="0.85"/><circle cx="-0.4" cy="-1.1" r="1.7" fill="#d8e030" stroke="#78b838" stroke-width="0.8"/></g>
<g stroke="#111" stroke-width="1.1"><line x1="201.2" y1="265.7" x2="256" y2="265.7"/><line x1="201.2" y1="259.2" x2="201.2" y2="271.8"/><line x1="226.7" y1="259.2" x2="226.7" y2="271.8"/></g>
<path d="M261.2,265.7 L255.2,262.6 L256.2,265.7 L255.2,268.8 Z" fill="#111"/>
<text x="194.8" y="282.5" font-size="6.4" text-anchor="start" fill="#222" font-weight="normal" textLength="12.2" lengthAdjust="spacingAndGlyphs" >Birth</text>
<text x="223.2" y="282.5" font-size="6.4" text-anchor="start" fill="#222" font-weight="normal" textLength="22.2" lengthAdjust="spacingAndGlyphs" >20 DPC</text>
<text x="266.2" y="263.8" font-size="6.3" text-anchor="start" fill="#222" font-weight="normal" textLength="61.1" lengthAdjust="spacingAndGlyphs" >Analysis of engraftment</text>
<text x="278.7" y="271.5" font-size="6.3" text-anchor="start" fill="#222" font-weight="normal" textLength="36" lengthAdjust="spacingAndGlyphs" >and tolerance</text>
<text x="10.3" y="313" font-size="11.3" font-weight="bold" fill="#000">B</text>
<rect x="59.3" y="344.05" width="19.7" height="56.25" fill="#a3022b"/>
<rect x="87.5" y="398.11" width="19.7" height="2.19" fill="#3e1356"/>
<rect x="116.0" y="337.80" width="19.7" height="62.50" fill="#2e4b7c"/>
<rect x="144.3" y="347.80" width="19.7" height="52.50" fill="#6aa642"/>
<rect x="116" y="337.80" width="19.7" height="62.50" fill="none" stroke="#24406e" stroke-width="0.5"/>
<line x1="50.5" y1="335.6" x2="50.5" y2="400.9" stroke="#333" stroke-width="1.1"/>
<line x1="49.9" y1="400.5" x2="172.8" y2="400.5" stroke="#3a3a3a" stroke-width="1.3"/>
<line x1="47.6" y1="400.30" x2="50.5" y2="400.30" stroke="#333" stroke-width="0.8"/>
<text x="45.0" y="402.3" font-size="5.7" text-anchor="end" fill="#222" font-weight="normal" textLength="8.6" lengthAdjust="spacingAndGlyphs"  class="tk">0.0</text>
<line x1="47.6" y1="387.80" x2="50.5" y2="387.80" stroke="#333" stroke-width="0.8"/>
<text x="45.0" y="389.8" font-size="5.7" text-anchor="end" fill="#222" font-weight="normal" textLength="8.6" lengthAdjust="spacingAndGlyphs"  class="tk">0.2</text>
<line x1="47.6" y1="375.30" x2="50.5" y2="375.30" stroke="#333" stroke-width="0.8"/>
<text x="45.0" y="377.3" font-size="5.7" text-anchor="end" fill="#222" font-weight="normal" textLength="8.6" lengthAdjust="spacingAndGlyphs"  class="tk">0.4</text>
<line x1="47.6" y1="362.80" x2="50.5" y2="362.80" stroke="#333" stroke-width="0.8"/>
<text x="45.0" y="364.8" font-size="5.7" text-anchor="end" fill="#222" font-weight="normal" textLength="8.6" lengthAdjust="spacingAndGlyphs"  class="tk">0.6</text>
<line x1="47.6" y1="350.30" x2="50.5" y2="350.30" stroke="#333" stroke-width="0.8"/>
<text x="45.0" y="352.3" font-size="5.7" text-anchor="end" fill="#222" font-weight="normal" textLength="8.6" lengthAdjust="spacingAndGlyphs"  class="tk">0.8</text>
<line x1="47.6" y1="337.80" x2="50.5" y2="337.80" stroke="#333" stroke-width="0.8"/>
<text x="45.0" y="339.8" font-size="5.7" text-anchor="end" fill="#222" font-weight="normal" textLength="8.6" lengthAdjust="spacingAndGlyphs"  class="tk">1.0</text>
<line x1="69.2" y1="400.5" x2="69.2" y2="403.4" stroke="#333" stroke-width="0.8"/>
<line x1="97.3" y1="400.5" x2="97.3" y2="403.4" stroke="#333" stroke-width="0.8"/>
<line x1="125.8" y1="400.5" x2="125.8" y2="403.4" stroke="#333" stroke-width="0.8"/>
<line x1="154.1" y1="400.5" x2="154.1" y2="403.4" stroke="#333" stroke-width="0.8"/>
<line x1="69.2" y1="339.0" x2="96.9" y2="339.0" stroke="#6c6c6c" stroke-width="1.4"/>
<line x1="96.9" y1="332.3" x2="125.8" y2="332.3" stroke="#444" stroke-width="0.9"/>
<line x1="96.9" y1="326.3" x2="153.5" y2="326.3" stroke="#444" stroke-width="0.9"/>
<circle cx="82.4" cy="336.0" r="0.75" fill="#333"/>
<circle cx="111.6" cy="329.7" r="0.75" fill="#333"/>
<circle cx="125.6" cy="323.6" r="0.75" fill="#333"/>
<text transform="translate(30.7 367.3) rotate(-90)" font-size="7.4" class="yl" text-anchor="middle" fill="#2a2a2a" textLength="65.2" lengthAdjust="spacingAndGlyphs">Macroengrafted / injected</text>
<g transform="translate(73.68 410.55) rotate(-45)"><text x="0" y="0" font-size="6.3" text-anchor="end" fill="#1a1a1a" textLength="92" lengthAdjust="spacingAndGlyphs">TCD BM only at 14 DPC <tspan font-size="5.5">(n=20)</tspan></text></g>
<g transform="translate(102.11 410.12) rotate(-45)"><text x="0" y="0" font-size="6.3" text-anchor="end" fill="#1a1a1a" textLength="93" lengthAdjust="spacingAndGlyphs">TCD BM only at 20 DPC <tspan font-size="5.5">(n=90)</tspan></text></g>
<g transform="translate(129.19 412.03) rotate(-45)"><text x="0" y="0" font-size="6.3" text-anchor="end" fill="#1a1a1a" textLength="83" lengthAdjust="spacingAndGlyphs">TCD BM + CD4<tspan font-size="3.8" dy="-2.3">+</tspan><tspan dy="2.3"> Splenocytes</tspan></text></g>
<g transform="translate(134.92 417.76) rotate(-45)"><text x="0" y="0" font-size="6.3" text-anchor="end" fill="#1a1a1a" textLength="105" lengthAdjust="spacingAndGlyphs">from Chimeric Mice at 20 DPC <tspan font-size="5.5">(n=24)</tspan></text></g>
<g transform="translate(158.04 412.03) rotate(-45)"><text x="0" y="0" font-size="6.3" text-anchor="end" fill="#1a1a1a" textLength="100" lengthAdjust="spacingAndGlyphs">TCD BM + CD4<tspan font-size="3.8" dy="-2.3">+</tspan><tspan dy="2.3">CD25</tspan><tspan font-size="3.8" dy="-2.3">+</tspan><tspan dy="2.3"> Splenocytes</tspan></text></g>
<g transform="translate(163.70 417.69) rotate(-45)"><text x="0" y="0" font-size="6.3" text-anchor="end" fill="#1a1a1a" textLength="117" lengthAdjust="spacingAndGlyphs">from Naive Donor Mice at 20 DPC <tspan font-size="5.5">(n=25)</tspan></text></g>
<text x="191.0" y="313.4" font-size="11.3" font-weight="bold" fill="#000">C</text>
<line x1="216.4" y1="317.6" x2="216.4" y2="410.4" stroke="#222" stroke-width="1.2"/>
<line x1="215.8" y1="409.8" x2="338.2" y2="409.8" stroke="#222" stroke-width="1.2"/>
<line x1="213.4" y1="409.20" x2="216.4" y2="409.20" stroke="#333" stroke-width="0.8"/>
<text x="210.4" y="411.2" font-size="5.7" text-anchor="end" fill="#222" font-weight="normal" textLength="3.2" lengthAdjust="spacingAndGlyphs"  class="tk">0</text>
<line x1="213.4" y1="396.35" x2="216.4" y2="396.35" stroke="#333" stroke-width="0.8"/>
<text x="210.4" y="398.34999999999997" font-size="5.7" text-anchor="end" fill="#222" font-weight="normal" textLength="3.2" lengthAdjust="spacingAndGlyphs"  class="tk">2</text>
<line x1="213.4" y1="383.50" x2="216.4" y2="383.50" stroke="#333" stroke-width="0.8"/>
<text x="210.4" y="385.5" font-size="5.7" text-anchor="end" fill="#222" font-weight="normal" textLength="3.2" lengthAdjust="spacingAndGlyphs"  class="tk">4</text>
<line x1="213.4" y1="370.65" x2="216.4" y2="370.65" stroke="#333" stroke-width="0.8"/>
<text x="210.4" y="372.65" font-size="5.7" text-anchor="end" fill="#222" font-weight="normal" textLength="3.2" lengthAdjust="spacingAndGlyphs"  class="tk">6</text>
<line x1="213.4" y1="357.80" x2="216.4" y2="357.80" stroke="#333" stroke-width="0.8"/>
<text x="210.4" y="359.8" font-size="5.7" text-anchor="end" fill="#222" font-weight="normal" textLength="3.2" lengthAdjust="spacingAndGlyphs"  class="tk">8</text>
<line x1="213.4" y1="344.95" x2="216.4" y2="344.95" stroke="#333" stroke-width="0.8"/>
<text x="210.4" y="346.95" font-size="5.7" text-anchor="end" fill="#222" font-weight="normal" textLength="6.3" lengthAdjust="spacingAndGlyphs"  class="tk">10</text>
<line x1="213.4" y1="332.10" x2="216.4" y2="332.10" stroke="#333" stroke-width="0.8"/>
<text x="210.4" y="334.1" font-size="5.7" text-anchor="end" fill="#222" font-weight="normal" textLength="6.3" lengthAdjust="spacingAndGlyphs"  class="tk">12</text>
<line x1="213.4" y1="319.25" x2="216.4" y2="319.25" stroke="#333" stroke-width="0.8"/>
<text x="210.4" y="321.25" font-size="5.7" text-anchor="end" fill="#222" font-weight="normal" textLength="6.3" lengthAdjust="spacingAndGlyphs"  class="tk">14</text>
<line x1="216.70" y1="409.8" x2="216.70" y2="412.8" stroke="#333" stroke-width="0.8"/>
<text x="216.7" y="420.4" font-size="5.7" text-anchor="middle" fill="#222" font-weight="normal" textLength="3.2" lengthAdjust="spacingAndGlyphs"  class="tk">0</text>
<line x1="236.80" y1="409.8" x2="236.80" y2="412.8" stroke="#333" stroke-width="0.8"/>
<text x="236.79999999999998" y="420.4" font-size="5.7" text-anchor="middle" fill="#222" font-weight="normal" textLength="3.2" lengthAdjust="spacingAndGlyphs"  class="tk">4</text>
<line x1="256.90" y1="409.8" x2="256.90" y2="412.8" stroke="#333" stroke-width="0.8"/>
<text x="256.9" y="420.4" font-size="5.7" text-anchor="middle" fill="#222" font-weight="normal" textLength="3.2" lengthAdjust="spacingAndGlyphs"  class="tk">8</text>
<line x1="277.00" y1="409.8" x2="277.00" y2="412.8" stroke="#333" stroke-width="0.8"/>
<text x="277.0" y="420.4" font-size="5.7" text-anchor="middle" fill="#222" font-weight="normal" textLength="6.3" lengthAdjust="spacingAndGlyphs"  class="tk">12</text>
<line x1="297.10" y1="409.8" x2="297.10" y2="412.8" stroke="#333" stroke-width="0.8"/>
<text x="297.1" y="420.4" font-size="5.7" text-anchor="middle" fill="#222" font-weight="normal" textLength="6.3" lengthAdjust="spacingAndGlyphs"  class="tk">16</text>
<line x1="317.20" y1="409.8" x2="317.20" y2="412.8" stroke="#333" stroke-width="0.8"/>
<text x="317.2" y="420.4" font-size="5.7" text-anchor="middle" fill="#222" font-weight="normal" textLength="6.3" lengthAdjust="spacingAndGlyphs"  class="tk">20</text>
<line x1="337.30" y1="409.8" x2="337.30" y2="412.8" stroke="#333" stroke-width="0.8"/>
<text x="337.3" y="420.4" font-size="5.7" text-anchor="middle" fill="#222" font-weight="normal" textLength="6.3" lengthAdjust="spacingAndGlyphs"  class="tk">24</text>
<text x="278.3" y="432.2" font-size="8.0" text-anchor="middle" fill="#2a2a2a" font-weight="bold" textLength="31.7" lengthAdjust="spacingAndGlyphs" >Age (weeks)</text>
<text transform="translate(198.0 362.7) rotate(-90)" font-size="8.2" class="yl" text-anchor="middle" fill="#2a2a2a" textLength="31.2" lengthAdjust="spacingAndGlyphs">%chimerism</text>
<polyline points="236.80,363.90 256.90,382.21 277.00,391.21 337.30,403.74" fill="none" stroke="#5fa530" stroke-width="1.05"/>
<path d="M236.80,369.37 L236.80,358.44 M235.40,358.44 L238.20,358.44 M235.40,369.37 L238.20,369.37" stroke="#5fa530" stroke-width="0.95"/>
<path d="M256.90,384.78 L256.90,379.64 M255.50,379.64 L258.30,379.64 M255.50,384.78 L258.30,384.78" stroke="#5fa530" stroke-width="0.95"/>
<path d="M277.00,393.14 L277.00,389.28 M275.60,389.28 L278.40,389.28 M275.60,393.14 L278.40,393.14" stroke="#5fa530" stroke-width="0.95"/>
<path d="M337.30,405.02 L337.30,402.45 M335.90,402.45 L338.70,402.45 M335.90,405.02 L338.70,405.02" stroke="#5fa530" stroke-width="0.95"/>
<polyline points="236.80,362.94 256.90,381.57 277.00,390.89 337.30,403.10" fill="none" stroke="#34558f" stroke-width="1.05"/>
<path d="M236.80,370.33 L236.80,355.55 M235.40,355.55 L238.20,355.55 M235.40,370.33 L238.20,370.33" stroke="#34558f" stroke-width="0.95"/>
<path d="M256.90,384.78 L256.90,378.36 M255.50,378.36 L258.30,378.36 M255.50,384.78 L258.30,384.78" stroke="#34558f" stroke-width="0.95"/>
<path d="M277.00,392.82 L277.00,388.96 M275.60,388.96 L278.40,388.96 M275.60,392.82 L278.40,392.82" stroke="#34558f" stroke-width="0.95"/>
<path d="M337.30,404.38 L337.30,401.81 M335.90,401.81 L338.70,401.81 M335.90,404.38 L338.70,404.38" stroke="#34558f" stroke-width="0.95"/>
<polyline points="236.80,348.81 256.90,378.36 277.00,385.11 337.30,400.85" fill="none" stroke="#c4223f" stroke-width="1.05"/>
<path d="M236.80,357.16 L236.80,340.45 M235.40,340.45 L238.20,340.45 M235.40,357.16 L238.20,357.16" stroke="#c4223f" stroke-width="0.95"/>
<path d="M256.90,382.86 L256.90,373.86 M255.50,373.86 L258.30,373.86 M255.50,382.86 L258.30,382.86" stroke="#c4223f" stroke-width="0.95"/>
<path d="M277.00,390.25 L277.00,379.97 M275.60,379.97 L278.40,379.97 M275.60,390.25 L278.40,390.25" stroke="#c4223f" stroke-width="0.95"/>
<path d="M337.30,402.77 L337.30,398.92 M335.90,398.92 L338.70,398.92 M335.90,402.77 L338.70,402.77" stroke="#c4223f" stroke-width="0.95"/>
<path d="M234.60,362.50 L239.00,362.50 L236.80,366.10 Z" fill="#fff" stroke="#5fa530" stroke-width="0.8"/>
<path d="M254.70,380.81 L259.10,380.81 L256.90,384.41 Z" fill="#fff" stroke="#5fa530" stroke-width="0.8"/>
<path d="M274.80,389.81 L279.20,389.81 L277.00,393.41 Z" fill="#fff" stroke="#5fa530" stroke-width="0.8"/>
<path d="M335.10,402.34 L339.50,402.34 L337.30,405.94 Z" fill="#fff" stroke="#5fa530" stroke-width="0.8"/>
<path d="M234.60,364.44 L239.00,364.44 L236.80,360.74 Z" fill="#fff" stroke="#34558f" stroke-width="0.9"/>
<path d="M254.70,383.07 L259.10,383.07 L256.90,379.37 Z" fill="#fff" stroke="#34558f" stroke-width="0.9"/>
<path d="M274.80,392.39 L279.20,392.39 L277.00,388.69 Z" fill="#fff" stroke="#34558f" stroke-width="0.9"/>
<path d="M335.10,404.60 L339.50,404.60 L337.30,400.90 Z" fill="#fff" stroke="#34558f" stroke-width="0.9"/>
<circle cx="236.80" cy="348.81" r="2.2" fill="#fff" stroke="#c4223f" stroke-width="1.0"/>
<circle cx="256.90" cy="378.36" r="2.2" fill="#fff" stroke="#c4223f" stroke-width="1.0"/>
<circle cx="277.00" cy="385.11" r="2.2" fill="#fff" stroke="#c4223f" stroke-width="1.0"/>
<circle cx="337.30" cy="400.85" r="2.2" fill="#fff" stroke="#c4223f" stroke-width="1.0"/>
<path d="M311.8,330.0 L318.6,330.0" stroke="#c4223f" stroke-width="1.0"/><circle cx="315.2" cy="330.0" r="2.1" fill="#fff" stroke="#c4223f" stroke-width="1.15"/>
<path d="M311.8,345.1 L318.6,345.1" stroke="#34558f" stroke-width="0.9"/><path d="M312.7,347.1 L317.7,347.1 L315.2,342.8 Z" fill="#fff" stroke="#34558f" stroke-width="1.0"/>
<path d="M311.8,362.0 L318.6,362.0" stroke="#5fa530" stroke-width="0.9"/><path d="M312.7,361.2 L317.7,361.2 L315.2,365.2 Z" fill="#fff" stroke="#5fa530" stroke-width="1.0"/>
<text x="321.9" y="331.7" font-size="5.6" fill="#222" class="lg" textLength="68.9" lengthAdjust="spacingAndGlyphs">TCD BM only at 14 DPC <tspan font-size="4.7">(n=7)</tspan></text>
<text x="321.9" y="346.5" font-size="5.6" fill="#222" class="lg" textLength="66.9" lengthAdjust="spacingAndGlyphs">TCD BM + CD4<tspan font-size="3.4" dy="-2.0">+</tspan><tspan dy="2.0"> Splenocytes</tspan></text>
<text x="321.9" y="352.3" font-size="5.6" fill="#222" class="lg" textLength="85.2" lengthAdjust="spacingAndGlyphs">from Chimeric Mice at 20 DPC <tspan font-size="4.7">(n=24)</tspan></text>
<text x="321.9" y="364.4" font-size="5.6" fill="#222" class="lg" textLength="82.7" lengthAdjust="spacingAndGlyphs">TCD BM + CD4<tspan font-size="3.4" dy="-2.0">+</tspan><tspan dy="2.0">CD25</tspan><tspan font-size="3.4" dy="-2.0">+</tspan><tspan dy="2.0"> Splenocytes</tspan></text>
<text x="321.9" y="370.2" font-size="5.6" fill="#222" class="lg" textLength="92.5" lengthAdjust="spacingAndGlyphs">from Naive Donor Mice at 20 DPC <tspan font-size="4.7">(n=21)</tspan></text>
<text x="10.1" y="503.8" font-size="11.3" font-weight="bold" fill="#000">D</text>
<line x1="38.8" y1="528" x2="38.8" y2="593.4" stroke="#222" stroke-width="1.2"/>
<line x1="38.2" y1="592.8" x2="182.4" y2="592.8" stroke="#333" stroke-width="1.3"/>
<line x1="35.8" y1="592.90" x2="38.8" y2="592.90" stroke="#333" stroke-width="0.8"/>
<text x="33.2" y="594.9" font-size="5.7" text-anchor="end" fill="#222" font-weight="normal" textLength="3.2" lengthAdjust="spacingAndGlyphs"  class="tk">0</text>
<line x1="35.8" y1="580.32" x2="38.8" y2="580.32" stroke="#333" stroke-width="0.8"/>
<text x="33.2" y="582.3199999999999" font-size="5.7" text-anchor="end" fill="#222" font-weight="normal" textLength="6.6" lengthAdjust="spacingAndGlyphs"  class="tk">20</text>
<line x1="35.8" y1="567.74" x2="38.8" y2="567.74" stroke="#333" stroke-width="0.8"/>
<text x="33.2" y="569.74" font-size="5.7" text-anchor="end" fill="#222" font-weight="normal" textLength="6.6" lengthAdjust="spacingAndGlyphs"  class="tk">40</text>
<line x1="35.8" y1="555.16" x2="38.8" y2="555.16" stroke="#333" stroke-width="0.8"/>
<text x="33.2" y="557.16" font-size="5.7" text-anchor="end" fill="#222" font-weight="normal" textLength="6.6" lengthAdjust="spacingAndGlyphs"  class="tk">60</text>
<line x1="35.8" y1="542.58" x2="38.8" y2="542.58" stroke="#333" stroke-width="0.8"/>
<text x="33.2" y="544.5799999999999" font-size="5.7" text-anchor="end" fill="#222" font-weight="normal" textLength="6.6" lengthAdjust="spacingAndGlyphs"  class="tk">80</text>
<line x1="35.8" y1="530.00" x2="38.8" y2="530.00" stroke="#333" stroke-width="0.8"/>
<text x="33.2" y="532.0" font-size="5.7" text-anchor="end" fill="#222" font-weight="normal" textLength="10.2" lengthAdjust="spacingAndGlyphs"  class="tk">100</text>
<line x1="52.2" y1="592.8" x2="52.2" y2="595.8" stroke="#333" stroke-width="0.8"/>
<line x1="91.5" y1="592.8" x2="91.5" y2="595.8" stroke="#333" stroke-width="0.8"/>
<line x1="130.4" y1="592.8" x2="130.4" y2="595.8" stroke="#333" stroke-width="0.8"/>
<line x1="169.3" y1="592.8" x2="169.3" y2="595.8" stroke="#333" stroke-width="0.8"/>
<text transform="translate(15.6 559.7) rotate(-90)" font-size="7.4" class="yl" text-anchor="middle" fill="#2a2a2a" textLength="62.8" lengthAdjust="spacingAndGlyphs">%lineage<tspan font-size="3.8" dy="-2.4">+</tspan><tspan dy="2.4"> / CD45</tspan><tspan font-size="3.8" dy="-2.4">+</tspan><tspan dy="2.4">GFP</tspan><tspan font-size="3.8" dy="-2.4">+</tspan></text>
<g transform="translate(52.55 599.55) rotate(-45)"><text x="0" y="0" font-size="6.8" text-anchor="end" fill="#1a1a1a" textLength="14.6" lengthAdjust="spacingAndGlyphs">CD3</text></g>
<g transform="translate(58.49 605.49) rotate(-45)"><text x="0" y="0" font-size="6.2" text-anchor="end" fill="#1a1a1a" textLength="22.7" lengthAdjust="spacingAndGlyphs">(T cells)</text></g>
<g transform="translate(91.85 599.55) rotate(-45)"><text x="0" y="0" font-size="6.8" text-anchor="end" fill="#1a1a1a" textLength="16.1" lengthAdjust="spacingAndGlyphs">B220</text></g>
<g transform="translate(97.79 605.49) rotate(-45)"><text x="0" y="0" font-size="6.2" text-anchor="end" fill="#1a1a1a" textLength="22.0" lengthAdjust="spacingAndGlyphs">(B cells)</text></g>
<g transform="translate(130.75 599.55) rotate(-45)"><text x="0" y="0" font-size="6.8" text-anchor="end" fill="#1a1a1a" textLength="21.0" lengthAdjust="spacingAndGlyphs">CD11b</text></g>
<g transform="translate(136.69 605.49) rotate(-45)"><text x="0" y="0" font-size="6.2" text-anchor="end" fill="#1a1a1a" textLength="33.1" lengthAdjust="spacingAndGlyphs">(Monocytes)</text></g>
<g transform="translate(169.65 599.55) rotate(-45)"><text x="0" y="0" font-size="6.8" text-anchor="end" fill="#1a1a1a" textLength="11.0" lengthAdjust="spacingAndGlyphs">Gr-1</text></g>
<g transform="translate(175.59 605.49) rotate(-45)"><text x="0" y="0" font-size="6.2" text-anchor="end" fill="#1a1a1a" textLength="39.4" lengthAdjust="spacingAndGlyphs">(Granulocytes)</text></g>
<circle cx="41.48" cy="576.55" r="1.35" fill="none" stroke="#f0a530" stroke-width="0.6"/><circle cx="42.80" cy="579.06" r="1.35" fill="none" stroke="#f0a530" stroke-width="0.6"/><circle cx="44.12" cy="580.32" r="1.35" fill="none" stroke="#f0a530" stroke-width="0.6"/><circle cx="40.60" cy="580.95" r="1.35" fill="none" stroke="#f0a530" stroke-width="0.6"/><circle cx="42.80" cy="581.58" r="1.35" fill="none" stroke="#f0a530" stroke-width="0.6"/><circle cx="45.00" cy="582.21" r="1.35" fill="none" stroke="#f0a530" stroke-width="0.6"/><circle cx="41.48" cy="579.69" r="1.35" fill="none" stroke="#f0a530" stroke-width="0.6"/><path d="M42.80,581.89 L42.80,578.43 M41.30,581.89 L44.30,581.89 M41.30,578.43 L44.30,578.43 M40.20,580.45 L45.40,580.45" stroke="#111" stroke-width="0.9"/>
<rect x="46.93" y="557.68" width="2.50" height="2.50" rx="0.56" fill="none" stroke="#c8203e" stroke-width="0.6"/><rect x="48.25" y="563.97" width="2.50" height="2.50" rx="0.56" fill="none" stroke="#c8203e" stroke-width="0.6"/><rect x="49.57" y="565.23" width="2.50" height="2.50" rx="0.56" fill="none" stroke="#c8203e" stroke-width="0.6"/><rect x="46.05" y="567.75" width="2.50" height="2.50" rx="0.56" fill="none" stroke="#c8203e" stroke-width="0.6"/><rect x="48.25" y="569.63" width="2.50" height="2.50" rx="0.56" fill="none" stroke="#c8203e" stroke-width="0.6"/><rect x="50.45" y="570.89" width="2.50" height="2.50" rx="0.56" fill="none" stroke="#c8203e" stroke-width="0.6"/><rect x="46.93" y="566.49" width="2.50" height="2.50" rx="0.56" fill="none" stroke="#c8203e" stroke-width="0.6"/><path d="M49.50,572.14 L49.50,562.71 M48.00,572.14 L51.00,572.14 M48.00,562.71 L51.00,562.71 M46.90,567.43 L52.10,567.43" stroke="#111" stroke-width="0.9"/>
<path d="M52.93,568.20 L56.03,568.20 L54.48,565.56 Z" fill="none" stroke="#3a5ea8" stroke-width="0.6"/><path d="M54.25,573.86 L57.35,573.86 L55.80,571.22 Z" fill="none" stroke="#3a5ea8" stroke-width="0.6"/><path d="M55.57,575.12 L58.67,575.12 L57.12,572.48 Z" fill="none" stroke="#3a5ea8" stroke-width="0.6"/><path d="M52.05,576.37 L55.15,576.37 L53.60,573.74 Z" fill="none" stroke="#3a5ea8" stroke-width="0.6"/><path d="M54.25,577.63 L57.35,577.63 L55.80,575.00 Z" fill="none" stroke="#3a5ea8" stroke-width="0.6"/><path d="M56.45,578.89 L59.55,578.89 L58.00,576.25 Z" fill="none" stroke="#3a5ea8" stroke-width="0.6"/><path d="M52.93,580.15 L56.03,580.15 L54.48,577.51 Z" fill="none" stroke="#3a5ea8" stroke-width="0.6"/><path d="M54.25,581.40 L57.35,581.40 L55.80,578.77 Z" fill="none" stroke="#3a5ea8" stroke-width="0.6"/><path d="M55.57,582.66 L58.67,582.66 L57.12,580.03 Z" fill="none" stroke="#3a5ea8" stroke-width="0.6"/><path d="M52.05,583.92 L55.15,583.92 L53.60,581.29 Z" fill="none" stroke="#3a5ea8" stroke-width="0.6"/><path d="M54.25,586.44 L57.35,586.44 L55.80,583.80 Z" fill="none" stroke="#3a5ea8" stroke-width="0.6"/><path d="M56.45,588.32 L59.55,588.32 L58.00,585.69 Z" fill="none" stroke="#3a5ea8" stroke-width="0.6"/><path d="M52.93,579.52 L56.03,579.52 L54.48,576.88 Z" fill="none" stroke="#3a5ea8" stroke-width="0.6"/><path d="M54.25,577.00 L57.35,577.00 L55.80,574.37 Z" fill="none" stroke="#3a5ea8" stroke-width="0.6"/><path d="M55.80,582.21 L55.80,574.03 M54.30,582.21 L57.30,582.21 M54.30,574.03 L57.30,574.03 M53.20,577.80 L58.40,577.80" stroke="#111" stroke-width="0.9"/>
<path d="M59.63,541.49 L62.73,541.49 L61.18,544.13 Z" fill="none" stroke="#5fb030" stroke-width="0.6"/><path d="M60.95,570.43 L64.05,570.43 L62.50,573.06 Z" fill="none" stroke="#5fb030" stroke-width="0.6"/><path d="M62.27,572.94 L65.37,572.94 L63.82,575.58 Z" fill="none" stroke="#5fb030" stroke-width="0.6"/><path d="M58.75,576.09 L61.85,576.09 L60.30,578.72 Z" fill="none" stroke="#5fb030" stroke-width="0.6"/><path d="M60.95,577.98 L64.05,577.98 L62.50,580.61 Z" fill="none" stroke="#5fb030" stroke-width="0.6"/><path d="M63.15,580.49 L66.25,580.49 L64.70,583.13 Z" fill="none" stroke="#5fb030" stroke-width="0.6"/><path d="M59.63,583.01 L62.73,583.01 L61.18,585.64 Z" fill="none" stroke="#5fb030" stroke-width="0.6"/><path d="M60.95,585.52 L64.05,585.52 L62.50,588.16 Z" fill="none" stroke="#5fb030" stroke-width="0.6"/><path d="M62.27,588.67 L65.37,588.67 L63.82,591.30 Z" fill="none" stroke="#5fb030" stroke-width="0.6"/><path d="M58.75,589.93 L61.85,589.93 L60.30,592.56 Z" fill="none" stroke="#5fb030" stroke-width="0.6"/><path d="M60.95,574.83 L64.05,574.83 L62.50,577.47 Z" fill="none" stroke="#5fb030" stroke-width="0.6"/><path d="M62.50,591.01 L62.50,564.60 M61.00,591.01 L64.00,591.01 M61.00,564.60 L64.00,564.60 M59.90,577.49 L65.10,577.49" stroke="#111" stroke-width="0.9"/>
<circle cx="80.08" cy="553.90" r="1.35" fill="none" stroke="#f0a530" stroke-width="0.6"/><circle cx="81.40" cy="555.16" r="1.35" fill="none" stroke="#f0a530" stroke-width="0.6"/><circle cx="82.72" cy="557.05" r="1.35" fill="none" stroke="#f0a530" stroke-width="0.6"/><circle cx="79.20" cy="558.30" r="1.35" fill="none" stroke="#f0a530" stroke-width="0.6"/><circle cx="81.40" cy="560.19" r="1.35" fill="none" stroke="#f0a530" stroke-width="0.6"/><circle cx="83.60" cy="561.45" r="1.35" fill="none" stroke="#f0a530" stroke-width="0.6"/><path d="M81.40,559.56 L81.40,554.53 M79.90,559.56 L82.90,559.56 M79.90,554.53 L82.90,554.53 M78.80,557.05 L84.00,557.05" stroke="#111" stroke-width="0.9"/>
<rect x="85.63" y="558.31" width="2.50" height="2.50" rx="0.56" fill="none" stroke="#c8203e" stroke-width="0.6"/><rect x="86.95" y="559.57" width="2.50" height="2.50" rx="0.56" fill="none" stroke="#c8203e" stroke-width="0.6"/><rect x="88.27" y="560.83" width="2.50" height="2.50" rx="0.56" fill="none" stroke="#c8203e" stroke-width="0.6"/><rect x="84.75" y="562.09" width="2.50" height="2.50" rx="0.56" fill="none" stroke="#c8203e" stroke-width="0.6"/><rect x="86.95" y="563.35" width="2.50" height="2.50" rx="0.56" fill="none" stroke="#c8203e" stroke-width="0.6"/><rect x="89.15" y="564.60" width="2.50" height="2.50" rx="0.56" fill="none" stroke="#c8203e" stroke-width="0.6"/><rect x="85.63" y="567.75" width="2.50" height="2.50" rx="0.56" fill="none" stroke="#c8203e" stroke-width="0.6"/><path d="M88.20,565.85 L88.20,560.82 M86.70,565.85 L89.70,565.85 M86.70,560.82 L89.70,560.82 M85.60,563.34 L90.80,563.34" stroke="#111" stroke-width="0.9"/>
<path d="M91.73,542.41 L94.83,542.41 L93.28,539.77 Z" fill="none" stroke="#3a5ea8" stroke-width="0.6"/><path d="M93.05,544.92 L96.15,544.92 L94.60,542.29 Z" fill="none" stroke="#3a5ea8" stroke-width="0.6"/><path d="M94.37,548.07 L97.47,548.07 L95.92,545.43 Z" fill="none" stroke="#3a5ea8" stroke-width="0.6"/><path d="M90.85,549.96 L93.95,549.96 L92.40,547.32 Z" fill="none" stroke="#3a5ea8" stroke-width="0.6"/><path d="M93.05,552.47 L96.15,552.47 L94.60,549.84 Z" fill="none" stroke="#3a5ea8" stroke-width="0.6"/><path d="M95.25,554.99 L98.35,554.99 L96.80,552.35 Z" fill="none" stroke="#3a5ea8" stroke-width="0.6"/><path d="M91.73,557.50 L94.83,557.50 L93.28,554.87 Z" fill="none" stroke="#3a5ea8" stroke-width="0.6"/><path d="M93.05,559.39 L96.15,559.39 L94.60,556.75 Z" fill="none" stroke="#3a5ea8" stroke-width="0.6"/><path d="M94.37,562.53 L97.47,562.53 L95.92,559.90 Z" fill="none" stroke="#3a5ea8" stroke-width="0.6"/><path d="M90.85,566.31 L93.95,566.31 L92.40,563.67 Z" fill="none" stroke="#3a5ea8" stroke-width="0.6"/><path d="M93.05,568.20 L96.15,568.20 L94.60,565.56 Z" fill="none" stroke="#3a5ea8" stroke-width="0.6"/><path d="M95.25,581.40 L98.35,581.40 L96.80,578.77 Z" fill="none" stroke="#3a5ea8" stroke-width="0.6"/><path d="M91.73,546.81 L94.83,546.81 L93.28,544.18 Z" fill="none" stroke="#3a5ea8" stroke-width="0.6"/><path d="M93.05,551.21 L96.15,551.21 L94.60,548.58 Z" fill="none" stroke="#3a5ea8" stroke-width="0.6"/><path d="M94.60,564.60 L94.60,543.21 M93.10,564.60 L96.10,564.60 M93.10,543.21 L96.10,543.21 M92.00,553.90 L97.20,553.90" stroke="#111" stroke-width="0.9"/>
<path d="M98.53,533.95 L101.63,533.95 L100.08,536.58 Z" fill="none" stroke="#5fb030" stroke-width="0.6"/><path d="M99.85,537.72 L102.95,537.72 L101.40,540.36 Z" fill="none" stroke="#5fb030" stroke-width="0.6"/><path d="M101.17,540.24 L104.27,540.24 L102.72,542.87 Z" fill="none" stroke="#5fb030" stroke-width="0.6"/><path d="M97.65,542.75 L100.75,542.75 L99.20,545.39 Z" fill="none" stroke="#5fb030" stroke-width="0.6"/><path d="M99.85,544.64 L102.95,544.64 L101.40,547.27 Z" fill="none" stroke="#5fb030" stroke-width="0.6"/><path d="M102.05,546.53 L105.15,546.53 L103.60,549.16 Z" fill="none" stroke="#5fb030" stroke-width="0.6"/><path d="M98.53,548.41 L101.63,548.41 L100.08,551.05 Z" fill="none" stroke="#5fb030" stroke-width="0.6"/><path d="M99.85,550.30 L102.95,550.30 L101.40,552.94 Z" fill="none" stroke="#5fb030" stroke-width="0.6"/><path d="M101.17,554.07 L104.27,554.07 L102.72,556.71 Z" fill="none" stroke="#5fb030" stroke-width="0.6"/><path d="M97.65,583.64 L100.75,583.64 L99.20,586.27 Z" fill="none" stroke="#5fb030" stroke-width="0.6"/><path d="M99.85,538.98 L102.95,538.98 L101.40,541.61 Z" fill="none" stroke="#5fb030" stroke-width="0.6"/><path d="M101.40,561.45 L101.40,535.66 M99.90,561.45 L102.90,561.45 M99.90,535.66 L102.90,535.66 M98.80,548.24 L104.00,548.24" stroke="#111" stroke-width="0.9"/>
<circle cx="119.28" cy="576.55" r="1.35" fill="none" stroke="#f0a530" stroke-width="0.6"/><circle cx="120.60" cy="577.80" r="1.35" fill="none" stroke="#f0a530" stroke-width="0.6"/><circle cx="121.92" cy="579.06" r="1.35" fill="none" stroke="#f0a530" stroke-width="0.6"/><circle cx="118.40" cy="581.58" r="1.35" fill="none" stroke="#f0a530" stroke-width="0.6"/><circle cx="120.60" cy="582.84" r="1.35" fill="none" stroke="#f0a530" stroke-width="0.6"/><circle cx="122.80" cy="584.09" r="1.35" fill="none" stroke="#f0a530" stroke-width="0.6"/><path d="M120.60,583.47 L120.60,577.80 M119.10,583.47 L122.10,583.47 M119.10,577.80 L122.10,577.80 M118.00,580.32 L123.20,580.32" stroke="#111" stroke-width="0.9"/>
<rect x="124.63" y="580.33" width="2.50" height="2.50" rx="0.56" fill="none" stroke="#c8203e" stroke-width="0.6"/><rect x="125.95" y="582.84" width="2.50" height="2.50" rx="0.56" fill="none" stroke="#c8203e" stroke-width="0.6"/><rect x="127.27" y="584.10" width="2.50" height="2.50" rx="0.56" fill="none" stroke="#c8203e" stroke-width="0.6"/><rect x="123.75" y="585.36" width="2.50" height="2.50" rx="0.56" fill="none" stroke="#c8203e" stroke-width="0.6"/><rect x="125.95" y="585.99" width="2.50" height="2.50" rx="0.56" fill="none" stroke="#c8203e" stroke-width="0.6"/><rect x="128.15" y="586.62" width="2.50" height="2.50" rx="0.56" fill="none" stroke="#c8203e" stroke-width="0.6"/><rect x="124.63" y="583.47" width="2.50" height="2.50" rx="0.56" fill="none" stroke="#c8203e" stroke-width="0.6"/><path d="M127.20,587.24 L127.20,584.09 M125.70,587.24 L128.70,587.24 M125.70,584.09 L128.70,584.09 M124.60,585.67 L129.80,585.67" stroke="#111" stroke-width="0.9"/>
<path d="M130.73,558.13 L133.83,558.13 L132.28,555.50 Z" fill="none" stroke="#3a5ea8" stroke-width="0.6"/><path d="M132.05,570.71 L135.15,570.71 L133.60,568.08 Z" fill="none" stroke="#3a5ea8" stroke-width="0.6"/><path d="M133.37,573.23 L136.47,573.23 L134.92,570.59 Z" fill="none" stroke="#3a5ea8" stroke-width="0.6"/><path d="M129.85,580.15 L132.95,580.15 L131.40,577.51 Z" fill="none" stroke="#3a5ea8" stroke-width="0.6"/><path d="M132.05,583.29 L135.15,583.29 L133.60,580.66 Z" fill="none" stroke="#3a5ea8" stroke-width="0.6"/><path d="M134.25,585.18 L137.35,585.18 L135.80,582.54 Z" fill="none" stroke="#3a5ea8" stroke-width="0.6"/><path d="M130.73,587.07 L133.83,587.07 L132.28,584.43 Z" fill="none" stroke="#3a5ea8" stroke-width="0.6"/><path d="M132.05,588.32 L135.15,588.32 L133.60,585.69 Z" fill="none" stroke="#3a5ea8" stroke-width="0.6"/><path d="M133.37,588.95 L136.47,588.95 L134.92,586.32 Z" fill="none" stroke="#3a5ea8" stroke-width="0.6"/><path d="M129.85,590.21 L132.95,590.21 L131.40,587.58 Z" fill="none" stroke="#3a5ea8" stroke-width="0.6"/><path d="M132.05,590.84 L135.15,590.84 L133.60,588.21 Z" fill="none" stroke="#3a5ea8" stroke-width="0.6"/><path d="M134.25,585.81 L137.35,585.81 L135.80,583.17 Z" fill="none" stroke="#3a5ea8" stroke-width="0.6"/><path d="M130.73,584.55 L133.83,584.55 L132.28,581.92 Z" fill="none" stroke="#3a5ea8" stroke-width="0.6"/><path d="M132.05,587.70 L135.15,587.70 L133.60,585.06 Z" fill="none" stroke="#3a5ea8" stroke-width="0.6"/><path d="M133.60,590.38 L133.60,573.40 M132.10,590.38 L135.10,590.38 M132.10,573.40 L135.10,573.40 M131.00,584.09 L136.20,584.09" stroke="#111" stroke-width="0.9"/>
<path d="M137.33,572.32 L140.43,572.32 L138.88,574.95 Z" fill="none" stroke="#5fb030" stroke-width="0.6"/><path d="M138.65,573.57 L141.75,573.57 L140.20,576.21 Z" fill="none" stroke="#5fb030" stroke-width="0.6"/><path d="M139.97,576.09 L143.07,576.09 L141.52,578.72 Z" fill="none" stroke="#5fb030" stroke-width="0.6"/><path d="M136.45,580.49 L139.55,580.49 L138.00,583.13 Z" fill="none" stroke="#5fb030" stroke-width="0.6"/><path d="M138.65,582.38 L141.75,582.38 L140.20,585.01 Z" fill="none" stroke="#5fb030" stroke-width="0.6"/><path d="M140.85,584.27 L143.95,584.27 L142.40,586.90 Z" fill="none" stroke="#5fb030" stroke-width="0.6"/><path d="M137.33,585.52 L140.43,585.52 L138.88,588.16 Z" fill="none" stroke="#5fb030" stroke-width="0.6"/><path d="M138.65,586.78 L141.75,586.78 L140.20,589.42 Z" fill="none" stroke="#5fb030" stroke-width="0.6"/><path d="M139.97,588.04 L143.07,588.04 L141.52,590.68 Z" fill="none" stroke="#5fb030" stroke-width="0.6"/><path d="M136.45,583.01 L139.55,583.01 L138.00,585.64 Z" fill="none" stroke="#5fb030" stroke-width="0.6"/><path d="M138.65,579.23 L141.75,579.23 L140.20,581.87 Z" fill="none" stroke="#5fb030" stroke-width="0.6"/><path d="M140.20,589.13 L140.20,579.06 M138.70,589.13 L141.70,589.13 M138.70,579.06 L141.70,579.06 M137.60,584.09 L142.80,584.09" stroke="#111" stroke-width="0.9"/>
<circle cx="157.68" cy="580.32" r="1.35" fill="none" stroke="#f0a530" stroke-width="0.6"/><circle cx="159.00" cy="581.58" r="1.35" fill="none" stroke="#f0a530" stroke-width="0.6"/><circle cx="160.32" cy="582.84" r="1.35" fill="none" stroke="#f0a530" stroke-width="0.6"/><circle cx="156.80" cy="584.09" r="1.35" fill="none" stroke="#f0a530" stroke-width="0.6"/><circle cx="159.00" cy="585.35" r="1.35" fill="none" stroke="#f0a530" stroke-width="0.6"/><circle cx="161.20" cy="585.98" r="1.35" fill="none" stroke="#f0a530" stroke-width="0.6"/><path d="M159.00,585.35 L159.00,581.58 M157.50,585.35 L160.50,585.35 M157.50,581.58 L160.50,581.58 M156.40,583.47 L161.60,583.47" stroke="#111" stroke-width="0.9"/>
<rect x="163.03" y="582.84" width="2.50" height="2.50" rx="0.56" fill="none" stroke="#c8203e" stroke-width="0.6"/><rect x="164.35" y="584.10" width="2.50" height="2.50" rx="0.56" fill="none" stroke="#c8203e" stroke-width="0.6"/><rect x="165.67" y="585.36" width="2.50" height="2.50" rx="0.56" fill="none" stroke="#c8203e" stroke-width="0.6"/><rect x="162.15" y="585.99" width="2.50" height="2.50" rx="0.56" fill="none" stroke="#c8203e" stroke-width="0.6"/><rect x="164.35" y="586.62" width="2.50" height="2.50" rx="0.56" fill="none" stroke="#c8203e" stroke-width="0.6"/><rect x="166.55" y="587.25" width="2.50" height="2.50" rx="0.56" fill="none" stroke="#c8203e" stroke-width="0.6"/><rect x="163.03" y="587.88" width="2.50" height="2.50" rx="0.56" fill="none" stroke="#c8203e" stroke-width="0.6"/><path d="M165.60,588.50 L165.60,585.98 M164.10,588.50 L167.10,588.50 M164.10,585.98 L167.10,585.98 M163.00,587.24 L168.20,587.24" stroke="#111" stroke-width="0.9"/>
<path d="M169.33,588.32 L172.43,588.32 L170.88,585.69 Z" fill="none" stroke="#3a5ea8" stroke-width="0.6"/><path d="M170.65,589.58 L173.75,589.58 L172.20,586.95 Z" fill="none" stroke="#3a5ea8" stroke-width="0.6"/><path d="M171.97,590.21 L175.07,590.21 L173.52,587.58 Z" fill="none" stroke="#3a5ea8" stroke-width="0.6"/><path d="M168.45,590.84 L171.55,590.84 L170.00,588.21 Z" fill="none" stroke="#3a5ea8" stroke-width="0.6"/><path d="M170.65,591.47 L173.75,591.47 L172.20,588.83 Z" fill="none" stroke="#3a5ea8" stroke-width="0.6"/><path d="M172.85,591.47 L175.95,591.47 L174.40,588.83 Z" fill="none" stroke="#3a5ea8" stroke-width="0.6"/><path d="M169.33,592.10 L172.43,592.10 L170.88,589.46 Z" fill="none" stroke="#3a5ea8" stroke-width="0.6"/><path d="M170.65,592.10 L173.75,592.10 L172.20,589.46 Z" fill="none" stroke="#3a5ea8" stroke-width="0.6"/><path d="M171.97,592.73 L175.07,592.73 L173.52,590.09 Z" fill="none" stroke="#3a5ea8" stroke-width="0.6"/><path d="M168.45,592.73 L171.55,592.73 L170.00,590.09 Z" fill="none" stroke="#3a5ea8" stroke-width="0.6"/><path d="M170.65,590.21 L173.75,590.21 L172.20,587.58 Z" fill="none" stroke="#3a5ea8" stroke-width="0.6"/><path d="M172.85,590.84 L175.95,590.84 L174.40,588.21 Z" fill="none" stroke="#3a5ea8" stroke-width="0.6"/><path d="M169.33,591.47 L172.43,591.47 L170.88,588.83 Z" fill="none" stroke="#3a5ea8" stroke-width="0.6"/><path d="M170.65,592.10 L173.75,592.10 L172.20,589.46 Z" fill="none" stroke="#3a5ea8" stroke-width="0.6"/><path d="M172.20,591.01 L172.20,589.13 M170.70,591.01 L173.70,591.01 M170.70,589.13 L173.70,589.13 M169.60,590.07 L174.80,590.07" stroke="#111" stroke-width="0.9"/>
<path d="M176.03,573.57 L179.13,573.57 L177.58,576.21 Z" fill="none" stroke="#5fb030" stroke-width="0.6"/><path d="M177.35,586.15 L180.45,586.15 L178.90,588.79 Z" fill="none" stroke="#5fb030" stroke-width="0.6"/><path d="M178.67,586.78 L181.77,586.78 L180.22,589.42 Z" fill="none" stroke="#5fb030" stroke-width="0.6"/><path d="M175.15,587.41 L178.25,587.41 L176.70,590.05 Z" fill="none" stroke="#5fb030" stroke-width="0.6"/><path d="M177.35,588.04 L180.45,588.04 L178.90,590.68 Z" fill="none" stroke="#5fb030" stroke-width="0.6"/><path d="M179.55,588.67 L182.65,588.67 L181.10,591.30 Z" fill="none" stroke="#5fb030" stroke-width="0.6"/><path d="M176.03,589.30 L179.13,589.30 L177.58,591.93 Z" fill="none" stroke="#5fb030" stroke-width="0.6"/><path d="M177.35,589.93 L180.45,589.93 L178.90,592.56 Z" fill="none" stroke="#5fb030" stroke-width="0.6"/><path d="M178.67,590.56 L181.77,590.56 L180.22,593.19 Z" fill="none" stroke="#5fb030" stroke-width="0.6"/><path d="M175.15,588.04 L178.25,588.04 L176.70,590.68 Z" fill="none" stroke="#5fb030" stroke-width="0.6"/><path d="M177.35,588.67 L180.45,588.67 L178.90,591.30 Z" fill="none" stroke="#5fb030" stroke-width="0.6"/><path d="M178.90,592.27 L178.90,584.72 M177.40,592.27 L180.40,592.27 M177.40,584.72 L180.40,584.72 M176.30,589.13 L181.50,589.13" stroke="#111" stroke-width="0.9"/>
<g stroke="#666" stroke-width="1.0"><line x1="42.2" y1="538.4" x2="49.8" y2="538.4"/><line x1="49" y1="534.2" x2="57.5" y2="534.2"/><line x1="49" y1="528.7" x2="62.8" y2="528.7"/><line x1="88" y1="526.2" x2="101.5" y2="526.2"/></g>
<circle cx="45.6" cy="535.6" r="0.75" fill="#333"/>
<circle cx="53.6" cy="531.5" r="0.75" fill="#333"/>
<circle cx="56" cy="525.9" r="0.75" fill="#333"/>
<circle cx="94.8" cy="523.5" r="0.75" fill="#333"/>
<circle cx="189.80" cy="531.90" r="1.35" fill="none" stroke="#f0a530" stroke-width="0.65"/>
<rect x="188.49" y="541.69" width="2.62" height="2.62" rx="0.59" fill="none" stroke="#c8203e" stroke-width="0.65"/>
<path d="M188.25,556.88 L191.35,556.88 L189.80,554.25 Z" fill="none" stroke="#3a5ea8" stroke-width="0.65"/>
<path d="M188.25,574.62 L191.35,574.62 L189.80,577.25 Z" fill="none" stroke="#5fb030" stroke-width="0.65"/>
<text x="194.5" y="533.3" font-size="5.6" fill="#222" class="lg" textLength="66.7" lengthAdjust="spacingAndGlyphs">GFP Uninjected Control <tspan font-size="4.7">(n=5)</tspan></text>
<text x="194.5" y="544.9" font-size="5.6" fill="#222" class="lg" textLength="69.2" lengthAdjust="spacingAndGlyphs">TCD BM only at 14 DPC <tspan font-size="4.7">(n=7)</tspan></text>
<text x="194.5" y="557.4" font-size="5.6" fill="#222" class="lg" textLength="67.5" lengthAdjust="spacingAndGlyphs">TCD BM + CD4<tspan font-size="3.4" dy="-2.0">+</tspan><tspan dy="2.0"> Splenocytes</tspan></text>
<text x="194.5" y="563.1" font-size="5.6" fill="#222" class="lg" textLength="69.2" lengthAdjust="spacingAndGlyphs">from Chimeric Mice at 20 DPC</text>
<text x="194.5" y="568.6" font-size="4.8" fill="#222" class="lg" textLength="15.6" lengthAdjust="spacingAndGlyphs">(n=14)</text>
<text x="194.5" y="576.9" font-size="5.6" fill="#222" class="lg" textLength="54.2" lengthAdjust="spacingAndGlyphs">TCD BM + CD4<tspan font-size="3.4" dy="-2.0">+</tspan><tspan dy="2.0">CD25</tspan><tspan font-size="3.4" dy="-2.0">+</tspan><tspan dy="2.0"></tspan></text>
<text x="194.5" y="583.0" font-size="5.6" fill="#222" class="lg" textLength="67.5" lengthAdjust="spacingAndGlyphs">Splenocytes from Naive Donor</text>
<text x="194.5" y="589.0" font-size="5.6" fill="#222" class="lg" textLength="53.7" lengthAdjust="spacingAndGlyphs">Mice at 20 DPC <tspan font-size="4.7">(n=11)</tspan></text>
<text x="278.7" y="503.9" font-size="11.3" font-weight="bold" fill="#000">E</text>
<line x1="304.3" y1="516.6" x2="304.3" y2="593.4" stroke="#222" stroke-width="1.2"/>
<line x1="303.7" y1="592.8" x2="409.0" y2="592.8" stroke="#333" stroke-width="1.3"/>
<line x1="301.3" y1="592.90" x2="304.3" y2="592.90" stroke="#333" stroke-width="0.8"/>
<text x="298.8" y="595.0" font-size="5.9" text-anchor="end" fill="#222" font-weight="normal" textLength="3.3" lengthAdjust="spacingAndGlyphs"  class="tk">0</text>
<line x1="301.3" y1="578.00" x2="304.3" y2="578.00" stroke="#333" stroke-width="0.8"/>
<text x="298.8" y="580.1" font-size="5.9" text-anchor="end" fill="#222" font-weight="normal" textLength="6.6" lengthAdjust="spacingAndGlyphs"  class="tk">10</text>
<line x1="301.3" y1="563.10" x2="304.3" y2="563.10" stroke="#333" stroke-width="0.8"/>
<text x="298.8" y="565.2" font-size="5.9" text-anchor="end" fill="#222" font-weight="normal" textLength="6.6" lengthAdjust="spacingAndGlyphs"  class="tk">20</text>
<line x1="301.3" y1="548.20" x2="304.3" y2="548.20" stroke="#333" stroke-width="0.8"/>
<text x="298.8" y="550.3" font-size="5.9" text-anchor="end" fill="#222" font-weight="normal" textLength="6.6" lengthAdjust="spacingAndGlyphs"  class="tk">30</text>
<line x1="301.3" y1="533.30" x2="304.3" y2="533.30" stroke="#333" stroke-width="0.8"/>
<text x="298.8" y="535.4" font-size="5.9" text-anchor="end" fill="#222" font-weight="normal" textLength="6.6" lengthAdjust="spacingAndGlyphs"  class="tk">40</text>
<line x1="301.3" y1="518.40" x2="304.3" y2="518.40" stroke="#333" stroke-width="0.8"/>
<text x="298.8" y="520.5" font-size="5.9" text-anchor="end" fill="#222" font-weight="normal" textLength="6.6" lengthAdjust="spacingAndGlyphs"  class="tk">50</text>
<line x1="325.6" y1="592.8" x2="325.6" y2="595.8" stroke="#333" stroke-width="0.8"/>
<line x1="389.6" y1="592.8" x2="389.6" y2="595.8" stroke="#333" stroke-width="0.8"/>
<text x="326.0" y="604.2" font-size="6.2" text-anchor="middle" fill="#222" font-weight="normal" textLength="36.5" lengthAdjust="spacingAndGlyphs" >Lymph Nodes</text>
<text x="389.6" y="604.2" font-size="6.2" text-anchor="middle" fill="#222" font-weight="normal" textLength="18.8" lengthAdjust="spacingAndGlyphs" >Spleen</text>
<text transform="translate(285.6 554.4) rotate(-90)" font-size="7.4" class="yl" text-anchor="middle" fill="#2a2a2a" textLength="35.4" lengthAdjust="spacingAndGlyphs">%proliferating</text>
<rect x="308.35" y="584.94" width="2.50" height="2.50" rx="0.56" fill="none" stroke="#c8203e" stroke-width="0.6"/><rect x="309.55" y="585.69" width="2.50" height="2.50" rx="0.56" fill="none" stroke="#c8203e" stroke-width="0.6"/><rect x="310.75" y="586.43" width="2.50" height="2.50" rx="0.56" fill="none" stroke="#c8203e" stroke-width="0.6"/><rect x="307.55" y="587.18" width="2.50" height="2.50" rx="0.56" fill="none" stroke="#c8203e" stroke-width="0.6"/><rect x="309.55" y="587.18" width="2.50" height="2.50" rx="0.56" fill="none" stroke="#c8203e" stroke-width="0.6"/><rect x="311.55" y="587.92" width="2.50" height="2.50" rx="0.56" fill="none" stroke="#c8203e" stroke-width="0.6"/><path d="M310.80,588.73 L310.80,586.94 M309.30,588.73 L312.30,588.73 M309.30,586.94 L312.30,586.94 M308.20,587.83 L313.40,587.83" stroke="#111" stroke-width="0.9"/>
<path d="M319.56,567.36 L321.26,569.06 L319.56,570.76 L317.86,569.06 Z" fill="none" stroke="#8a4aa8" stroke-width="0.6"/><path d="M321.00,567.36 L322.70,569.06 L321.00,570.76 L319.30,569.06 Z" fill="none" stroke="#8a4aa8" stroke-width="0.6"/><path d="M322.44,574.81 L324.14,576.51 L322.44,578.21 L320.74,576.51 Z" fill="none" stroke="#8a4aa8" stroke-width="0.6"/><path d="M318.60,576.30 L320.30,578.00 L318.60,579.70 L316.90,578.00 Z" fill="none" stroke="#8a4aa8" stroke-width="0.6"/><path d="M321.00,577.79 L322.70,579.49 L321.00,581.19 L319.30,579.49 Z" fill="none" stroke="#8a4aa8" stroke-width="0.6"/><path d="M323.40,580.77 L325.10,582.47 L323.40,584.17 L321.70,582.47 Z" fill="none" stroke="#8a4aa8" stroke-width="0.6"/><path d="M319.56,583.75 L321.26,585.45 L319.56,587.15 L317.86,585.45 Z" fill="none" stroke="#8a4aa8" stroke-width="0.6"/><path d="M321.00,585.24 L322.70,586.94 L321.00,588.64 L319.30,586.94 Z" fill="none" stroke="#8a4aa8" stroke-width="0.6"/><path d="M321.00,583.96 L321.00,572.78 M319.50,583.96 L322.50,583.96 M319.50,572.78 L322.50,572.78 M318.40,578.00 L323.60,578.00" stroke="#111" stroke-width="0.9"/>
<path d="M328.57,586.53 L331.67,586.53 L330.12,583.90 Z" fill="none" stroke="#3a5ea8" stroke-width="0.6"/><path d="M329.65,589.51 L332.75,589.51 L331.20,586.88 Z" fill="none" stroke="#3a5ea8" stroke-width="0.6"/><path d="M330.73,590.26 L333.83,590.26 L332.28,587.62 Z" fill="none" stroke="#3a5ea8" stroke-width="0.6"/><path d="M327.85,591.00 L330.95,591.00 L329.40,588.37 Z" fill="none" stroke="#3a5ea8" stroke-width="0.6"/><path d="M329.65,592.50 L332.75,592.50 L331.20,589.86 Z" fill="none" stroke="#3a5ea8" stroke-width="0.6"/><path d="M331.45,593.24 L334.55,593.24 L333.00,590.61 Z" fill="none" stroke="#3a5ea8" stroke-width="0.6"/><path d="M331.20,591.41 L331.20,586.94 M329.70,591.41 L332.70,591.41 M329.70,586.94 L332.70,586.94 M328.60,589.17 L333.80,589.17" stroke="#111" stroke-width="0.9"/>
<path d="M338.57,582.87 L341.67,582.87 L340.12,585.51 Z" fill="none" stroke="#5fb030" stroke-width="0.6"/><path d="M339.65,584.36 L342.75,584.36 L341.20,587.00 Z" fill="none" stroke="#5fb030" stroke-width="0.6"/><path d="M340.73,585.11 L343.83,585.11 L342.28,587.74 Z" fill="none" stroke="#5fb030" stroke-width="0.6"/><path d="M337.85,585.85 L340.95,585.85 L339.40,588.49 Z" fill="none" stroke="#5fb030" stroke-width="0.6"/><path d="M339.65,586.60 L342.75,586.60 L341.20,589.23 Z" fill="none" stroke="#5fb030" stroke-width="0.6"/><path d="M341.45,587.34 L344.55,587.34 L343.00,589.98 Z" fill="none" stroke="#5fb030" stroke-width="0.6"/><path d="M338.57,588.09 L341.67,588.09 L340.12,590.72 Z" fill="none" stroke="#5fb030" stroke-width="0.6"/><path d="M341.20,588.43 L341.20,585.45 M339.70,588.43 L342.70,588.43 M339.70,585.45 L342.70,585.45 M338.60,586.94 L343.80,586.94" stroke="#111" stroke-width="0.9"/>
<rect x="369.55" y="578.24" width="2.50" height="2.50" rx="0.56" fill="none" stroke="#c8203e" stroke-width="0.6"/><rect x="370.75" y="579.73" width="2.50" height="2.50" rx="0.56" fill="none" stroke="#c8203e" stroke-width="0.6"/><rect x="371.95" y="581.22" width="2.50" height="2.50" rx="0.56" fill="none" stroke="#c8203e" stroke-width="0.6"/><rect x="368.75" y="582.71" width="2.50" height="2.50" rx="0.56" fill="none" stroke="#c8203e" stroke-width="0.6"/><rect x="370.75" y="584.20" width="2.50" height="2.50" rx="0.56" fill="none" stroke="#c8203e" stroke-width="0.6"/><rect x="372.75" y="585.69" width="2.50" height="2.50" rx="0.56" fill="none" stroke="#c8203e" stroke-width="0.6"/><rect x="369.55" y="587.18" width="2.50" height="2.50" rx="0.56" fill="none" stroke="#c8203e" stroke-width="0.6"/><path d="M372.00,586.19 L372.00,581.73 M370.50,586.19 L373.50,586.19 M370.50,581.73 L373.50,581.73 M369.40,583.96 L374.60,583.96" stroke="#111" stroke-width="0.9"/>
<path d="M380.36,530.85 L382.06,532.55 L380.36,534.25 L378.66,532.55 Z" fill="none" stroke="#8a4aa8" stroke-width="0.6"/><path d="M381.80,550.97 L383.50,552.67 L381.80,554.37 L380.10,552.67 Z" fill="none" stroke="#8a4aa8" stroke-width="0.6"/><path d="M383.24,551.71 L384.94,553.41 L383.24,555.12 L381.54,553.41 Z" fill="none" stroke="#8a4aa8" stroke-width="0.6"/><path d="M379.40,553.20 L381.10,554.90 L379.40,556.61 L377.70,554.90 Z" fill="none" stroke="#8a4aa8" stroke-width="0.6"/><path d="M381.80,555.44 L383.50,557.14 L381.80,558.84 L380.10,557.14 Z" fill="none" stroke="#8a4aa8" stroke-width="0.6"/><path d="M384.20,561.40 L385.90,563.10 L384.20,564.80 L382.50,563.10 Z" fill="none" stroke="#8a4aa8" stroke-width="0.6"/><path d="M380.36,562.89 L382.06,564.59 L380.36,566.29 L378.66,564.59 Z" fill="none" stroke="#8a4aa8" stroke-width="0.6"/><path d="M381.80,558.42 L383.50,560.12 L381.80,561.82 L380.10,560.12 Z" fill="none" stroke="#8a4aa8" stroke-width="0.6"/><path d="M381.80,563.10 L381.80,543.73 M380.30,563.10 L383.30,563.10 M380.30,543.73 L383.30,543.73 M379.20,554.16 L384.40,554.16" stroke="#111" stroke-width="0.9"/>
<path d="M389.57,568.65 L392.67,568.65 L391.12,566.02 Z" fill="none" stroke="#3a5ea8" stroke-width="0.6"/><path d="M390.65,579.09 L393.75,579.09 L392.20,576.45 Z" fill="none" stroke="#3a5ea8" stroke-width="0.6"/><path d="M391.73,580.58 L394.83,580.58 L393.28,577.94 Z" fill="none" stroke="#3a5ea8" stroke-width="0.6"/><path d="M388.85,583.56 L391.95,583.56 L390.40,580.92 Z" fill="none" stroke="#3a5ea8" stroke-width="0.6"/><path d="M390.65,586.53 L393.75,586.53 L392.20,583.90 Z" fill="none" stroke="#3a5ea8" stroke-width="0.6"/><path d="M392.20,583.96 L392.20,572.04 M390.70,583.96 L393.70,583.96 M390.70,572.04 L393.70,572.04 M389.60,578.00 L394.80,578.00" stroke="#111" stroke-width="0.9"/>
<path d="M399.57,575.42 L402.67,575.42 L401.12,578.06 Z" fill="none" stroke="#5fb030" stroke-width="0.6"/><path d="M400.65,576.91 L403.75,576.91 L402.20,579.55 Z" fill="none" stroke="#5fb030" stroke-width="0.6"/><path d="M401.73,578.40 L404.83,578.40 L403.28,581.04 Z" fill="none" stroke="#5fb030" stroke-width="0.6"/><path d="M398.85,579.89 L401.95,579.89 L400.40,582.53 Z" fill="none" stroke="#5fb030" stroke-width="0.6"/><path d="M400.65,581.38 L403.75,581.38 L402.20,584.02 Z" fill="none" stroke="#5fb030" stroke-width="0.6"/><path d="M402.45,582.87 L405.55,582.87 L404.00,585.51 Z" fill="none" stroke="#5fb030" stroke-width="0.6"/><path d="M399.57,588.83 L402.67,588.83 L401.12,591.47 Z" fill="none" stroke="#5fb030" stroke-width="0.6"/><path d="M402.20,583.96 L402.20,576.51 M400.70,583.96 L403.70,583.96 M400.70,576.51 L403.70,576.51 M399.60,580.98 L404.80,580.98" stroke="#111" stroke-width="0.9"/>
<g stroke="#555" stroke-width="1.0"><line x1="310.4" y1="563.6" x2="321" y2="563.6"/><line x1="320" y1="558" x2="331" y2="558"/><line x1="320" y1="551.3" x2="341.5" y2="551.3"/><line x1="372" y1="526.6" x2="382.3" y2="526.6"/><line x1="381.3" y1="520.9" x2="392.4" y2="520.9"/><line x1="381.3" y1="514.4" x2="402.6" y2="514.4"/></g>
<circle cx="315.6" cy="560.7" r="0.75" fill="#333"/>
<circle cx="325.5" cy="555.1" r="0.75" fill="#333"/>
<circle cx="330.6" cy="548.5" r="0.75" fill="#333"/>
<circle cx="377" cy="524" r="0.75" fill="#333"/>
<circle cx="387" cy="518.2" r="0.75" fill="#333"/>
<circle cx="392" cy="511.8" r="0.75" fill="#333"/>
<rect x="417.43" y="525.73" width="2.75" height="2.75" rx="0.62" fill="none" stroke="#c8203e" stroke-width="0.75"/>
<path d="M418.80,539.75 L420.25,541.20 L418.80,542.65 L417.36,541.20 Z" fill="none" stroke="#8a4aa8" stroke-width="0.65"/>
<path d="M417.25,557.09 L420.35,557.09 L418.80,554.45 Z" fill="none" stroke="#3a5ea8" stroke-width="0.65"/>
<path d="M417.25,575.81 L420.35,575.81 L418.80,578.45 Z" fill="none" stroke="#5fb030" stroke-width="0.65"/>
<text x="423.7" y="528.7" font-size="5.6" fill="#222" class="lg" textLength="69.2" lengthAdjust="spacingAndGlyphs">TCD BM only at 14 DPC <tspan font-size="4.7">(n=6)</tspan></text>
<text x="423.7" y="542.7" font-size="5.6" fill="#222" class="lg" textLength="69.2" lengthAdjust="spacingAndGlyphs">TCD BM only at 20 DPC <tspan font-size="4.7">(n=8)</tspan></text>
<text x="423.7" y="557.5" font-size="5.6" fill="#222" class="lg" textLength="67.3" lengthAdjust="spacingAndGlyphs">TCD BM + CD4<tspan font-size="3.4" dy="-2.0">+</tspan><tspan dy="2.0"> Splenocytes</tspan></text>
<text x="423.7" y="562.9" font-size="5.6" fill="#222" class="lg" textLength="82.1" lengthAdjust="spacingAndGlyphs">from Chimeric Mice at 20 DPC <tspan font-size="4.7">(n=5)</tspan></text>
<text x="423.7" y="578.3" font-size="5.6" fill="#222" class="lg" textLength="83.2" lengthAdjust="spacingAndGlyphs">TCD BM + CD4<tspan font-size="3.4" dy="-2.0">+</tspan><tspan dy="2.0">CD25</tspan><tspan font-size="3.4" dy="-2.0">+</tspan><tspan dy="2.0"> Splenocytes</tspan></text>
<text x="423.7" y="583.7" font-size="5.6" fill="#222" class="lg" textLength="89.8" lengthAdjust="spacingAndGlyphs">from Naive Donor Mice at 20 DPC <tspan font-size="4.7">(n=7)</tspan></text><rect x="0.6" y="0.6" width="518.8" height="638.8" fill="none" stroke="#000" stroke-width="1.3"/></svg></body></html>
